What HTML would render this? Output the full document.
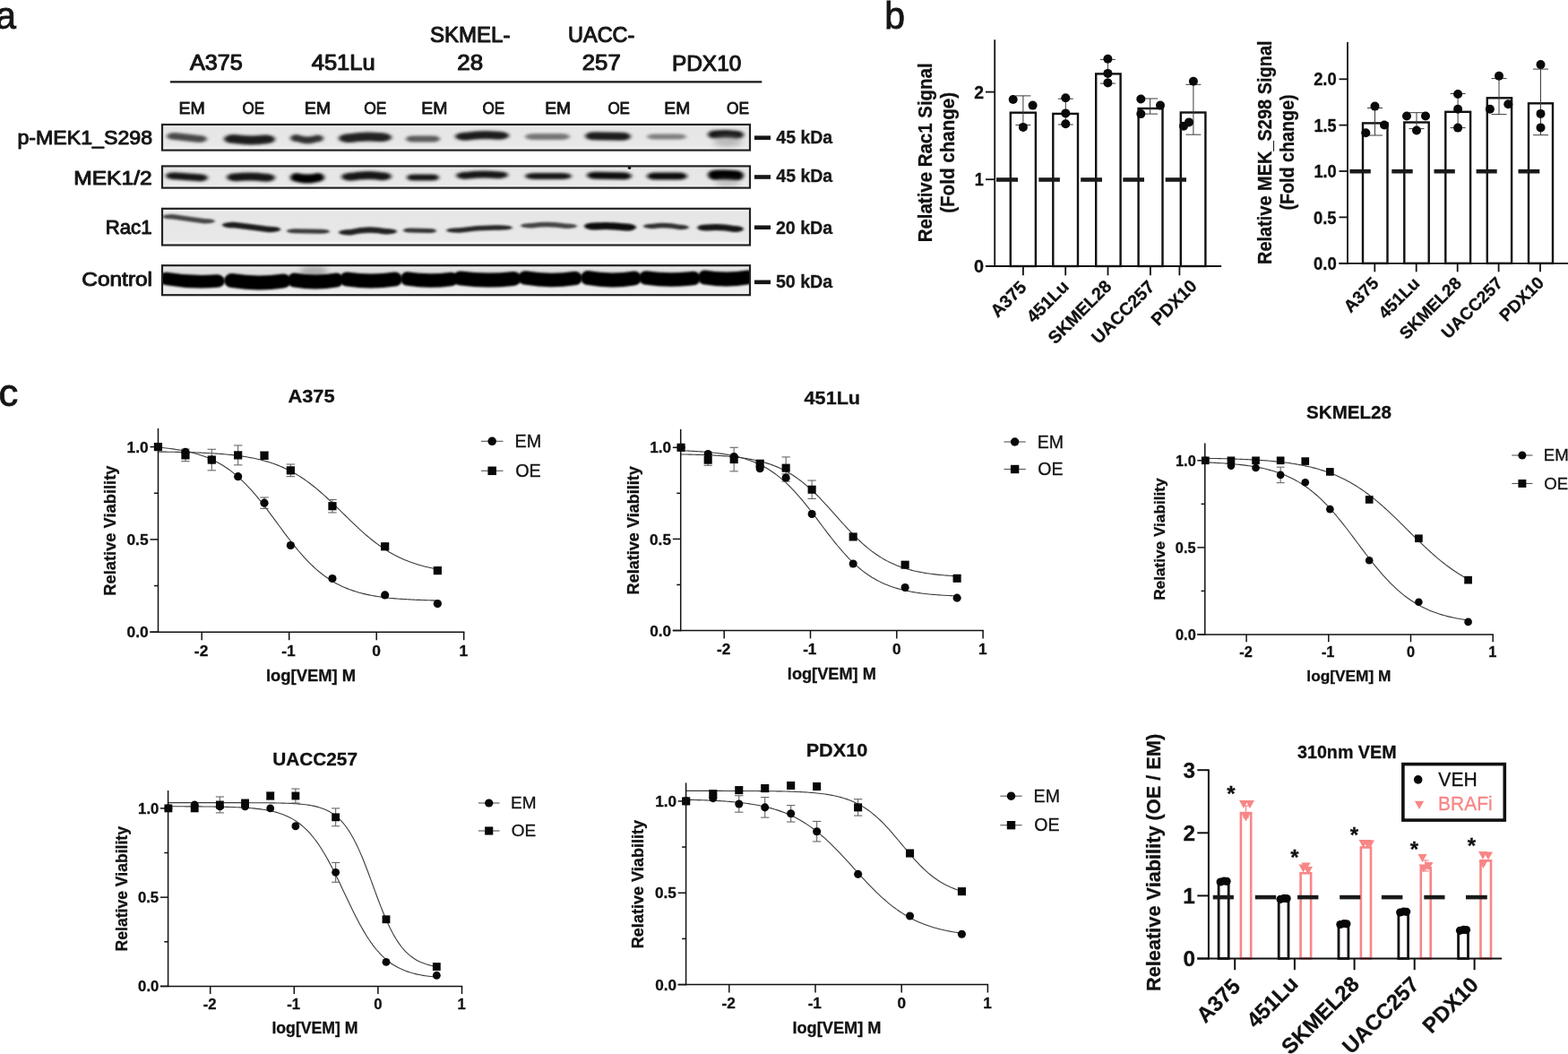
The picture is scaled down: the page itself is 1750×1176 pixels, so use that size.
<!DOCTYPE html>
<html><head><meta charset="utf-8"><title>Figure</title>
<style>
html,body{margin:0;padding:0;background:#fff;}
body{width:1750px;height:1176px;overflow:hidden;}
svg{display:block;}
text{font-family:"Liberation Sans", Arial, Helvetica, sans-serif;}
</style></head><body>
<svg width="1750" height="1176" viewBox="0 0 1750 1176">
<defs>
<filter id="b1" filterUnits="userSpaceOnUse" x="0" y="0" width="1750" height="1176"><feGaussianBlur stdDeviation="2.0 1.6"/></filter>
<filter id="b2" filterUnits="userSpaceOnUse" x="0" y="0" width="1750" height="1176"><feGaussianBlur stdDeviation="1.8 1.3"/></filter>
<filter id="b3" filterUnits="userSpaceOnUse" x="0" y="0" width="1750" height="1176"><feGaussianBlur stdDeviation="3 3"/></filter>
<filter id="b4" filterUnits="userSpaceOnUse" x="0" y="0" width="1750" height="1176"><feGaussianBlur stdDeviation="1.3 1.1"/></filter>
<linearGradient id="blotbg" x1="0" y1="0" x2="0" y2="1">
<stop offset="0" stop-color="#f6f6f6"/><stop offset="0.12" stop-color="#e6e6e6"/><stop offset="0.85" stop-color="#e8e8e8"/><stop offset="1" stop-color="#fafafa"/>
</linearGradient>
</defs>
<rect x="0" y="0" width="1750" height="1176" fill="#fff"/>
<text x="-5" y="31.85" font-size="43" font-weight="normal" fill="#151515" textLength="22.99" lengthAdjust="spacingAndGlyphs" stroke="#151515" stroke-width="0.9">a</text>
<text x="987.2" y="31.55" font-size="43" font-weight="normal" fill="#151515" textLength="22.73" lengthAdjust="spacingAndGlyphs" stroke="#151515" stroke-width="0.9">b</text>
<text x="-1.49" y="452.95" font-size="43" font-weight="normal" fill="#151515" textLength="21.74" lengthAdjust="spacingAndGlyphs" stroke="#151515" stroke-width="0.9">c</text>
<text x="211.94" y="78.06" font-size="23.94" font-weight="normal" fill="#161616" textLength="58.72" lengthAdjust="spacingAndGlyphs" stroke="#161616" stroke-width="1.0710000000000002" stroke-linejoin="round">A375</text>
<text x="347.73" y="78.06" font-size="23.94" font-weight="normal" fill="#161616" textLength="70.94" lengthAdjust="spacingAndGlyphs" stroke="#161616" stroke-width="1.0710000000000002" stroke-linejoin="round">451Lu</text>
<text x="479.93" y="47.46" font-size="23.94" font-weight="normal" fill="#161616" textLength="89.47" lengthAdjust="spacingAndGlyphs" stroke="#161616" stroke-width="1.0710000000000002" stroke-linejoin="round">SKMEL-</text>
<text x="510.34" y="78.06" font-size="23.94" font-weight="normal" fill="#161616" textLength="28.82" lengthAdjust="spacingAndGlyphs" stroke="#161616" stroke-width="1.0710000000000002" stroke-linejoin="round">28</text>
<text x="634.06" y="47.46" font-size="23.94" font-weight="normal" fill="#161616" textLength="74.3" lengthAdjust="spacingAndGlyphs" stroke="#161616" stroke-width="1.0710000000000002" stroke-linejoin="round">UACC-</text>
<text x="649.75" y="78.06" font-size="23.94" font-weight="normal" fill="#161616" textLength="42.96" lengthAdjust="spacingAndGlyphs" stroke="#161616" stroke-width="1.0710000000000002" stroke-linejoin="round">257</text>
<text x="749.98" y="78.56" font-size="23.94" font-weight="normal" fill="#161616" textLength="77.32" lengthAdjust="spacingAndGlyphs" stroke="#161616" stroke-width="1.0710000000000002" stroke-linejoin="round">PDX10</text>
<line x1="190" y1="91.3" x2="850.3" y2="91.3" stroke="#161616" stroke-width="2.3"/>
<text x="199.46" y="126.67" font-size="19.06" font-weight="normal" fill="#161616" textLength="29.38" lengthAdjust="spacingAndGlyphs" stroke="#161616" stroke-width="0.8526000000000001" stroke-linejoin="round">EM</text>
<text x="270.48" y="126.67" font-size="19.06" font-weight="normal" fill="#161616" textLength="24.59" lengthAdjust="spacingAndGlyphs" stroke="#161616" stroke-width="0.8526000000000001" stroke-linejoin="round">OE</text>
<text x="339.65" y="126.67" font-size="19.06" font-weight="normal" fill="#161616" textLength="29.49" lengthAdjust="spacingAndGlyphs" stroke="#161616" stroke-width="0.8526000000000001" stroke-linejoin="round">EM</text>
<text x="406.15" y="126.67" font-size="19.06" font-weight="normal" fill="#161616" textLength="25.23" lengthAdjust="spacingAndGlyphs" stroke="#161616" stroke-width="0.8526000000000001" stroke-linejoin="round">OE</text>
<text x="470.27" y="126.67" font-size="19.06" font-weight="normal" fill="#161616" textLength="29.16" lengthAdjust="spacingAndGlyphs" stroke="#161616" stroke-width="0.8526000000000001" stroke-linejoin="round">EM</text>
<text x="538.57" y="126.67" font-size="19.06" font-weight="normal" fill="#161616" textLength="24.7" lengthAdjust="spacingAndGlyphs" stroke="#161616" stroke-width="0.8526000000000001" stroke-linejoin="round">OE</text>
<text x="608.29" y="126.67" font-size="19.06" font-weight="normal" fill="#161616" textLength="28.82" lengthAdjust="spacingAndGlyphs" stroke="#161616" stroke-width="0.8526000000000001" stroke-linejoin="round">EM</text>
<text x="678.38" y="126.67" font-size="19.06" font-weight="normal" fill="#161616" textLength="24.59" lengthAdjust="spacingAndGlyphs" stroke="#161616" stroke-width="0.8526000000000001" stroke-linejoin="round">OE</text>
<text x="741.39" y="126.67" font-size="19.06" font-weight="normal" fill="#161616" textLength="28.82" lengthAdjust="spacingAndGlyphs" stroke="#161616" stroke-width="0.8526000000000001" stroke-linejoin="round">EM</text>
<text x="810.96" y="126.67" font-size="19.06" font-weight="normal" fill="#161616" textLength="25.02" lengthAdjust="spacingAndGlyphs" stroke="#161616" stroke-width="0.8526000000000001" stroke-linejoin="round">OE</text>
<text x="19.5" y="161.31" font-size="21.78" font-weight="normal" fill="#161616" textLength="150.52" lengthAdjust="spacingAndGlyphs" stroke="#161616" stroke-width="0.9744" stroke-linejoin="round">p-MEK1_S298</text>
<text x="82.27" y="206.31" font-size="21.78" font-weight="normal" fill="#161616" textLength="87.4" lengthAdjust="spacingAndGlyphs" stroke="#161616" stroke-width="0.9744" stroke-linejoin="round">MEK1/2</text>
<text x="117.71" y="260.51" font-size="21.78" font-weight="normal" fill="#161616" textLength="51.78" lengthAdjust="spacingAndGlyphs" stroke="#161616" stroke-width="0.9744" stroke-linejoin="round">Rac1</text>
<text x="91.26" y="318.51" font-size="21.78" font-weight="normal" fill="#161616" textLength="78.8" lengthAdjust="spacingAndGlyphs" stroke="#161616" stroke-width="0.9744" stroke-linejoin="round">Control</text>
<line x1="842" y1="153.7" x2="860" y2="153.7" stroke="#161616" stroke-width="4.6"/>
<text x="866.3" y="159.5" font-size="20" font-weight="bold" fill="#161616" textLength="62.89" lengthAdjust="spacingAndGlyphs" stroke="#161616" stroke-width="0.3">45 kDa</text>
<line x1="842" y1="197.5" x2="860" y2="197.5" stroke="#161616" stroke-width="4.6"/>
<text x="866.3" y="203.2" font-size="20" font-weight="bold" fill="#161616" textLength="62.89" lengthAdjust="spacingAndGlyphs" stroke="#161616" stroke-width="0.3">45 kDa</text>
<line x1="842" y1="253.75" x2="860" y2="253.75" stroke="#161616" stroke-width="4.6"/>
<text x="865.91" y="261.25" font-size="20" font-weight="bold" fill="#161616" textLength="63.28" lengthAdjust="spacingAndGlyphs" stroke="#161616" stroke-width="0.3">20 kDa</text>
<line x1="842" y1="314.8" x2="860" y2="314.8" stroke="#161616" stroke-width="4.6"/>
<text x="865.91" y="320.7" font-size="20" font-weight="bold" fill="#161616" textLength="63.28" lengthAdjust="spacingAndGlyphs" stroke="#161616" stroke-width="0.3">50 kDa</text>
<rect x="181" y="139" width="656" height="28.6" fill="url(#blotbg)" stroke="none" stroke-width="0"/>
<rect x="181" y="185.4" width="656" height="24.2" fill="url(#blotbg)" stroke="none" stroke-width="0"/>
<rect x="181" y="232.8" width="656" height="40.7" fill="url(#blotbg)" stroke="none" stroke-width="0"/>
<rect x="181" y="296.2" width="656" height="33" fill="url(#blotbg)" stroke="none" stroke-width="0"/>
<clipPath id="clipblots"><rect x="181" y="139" width="656" height="28.6"/><rect x="181" y="185.4" width="656" height="24.2"/><rect x="181" y="232.8" width="656" height="40.7"/><rect x="181" y="296.2" width="656" height="33"/></clipPath>
<g clip-path="url(#clipblots)">
<path d="M195 148 Q208.5 149.5 222 151 A9 4 0 0 1 222 159 Q208.5 157.5 195 156 A9 4 0 0 1 195 148 Z" fill="#4a4a4a" filter="url(#b1)"/>
<path d="M261.4 150.1 Q278.5 152.75 295.6 150.4 A11.4 5 0 0 1 295.6 160.4 Q278.5 162.75 261.4 160.1 A11.4 5 0 0 1 261.4 150.1 Z" fill="#1c1c1c" filter="url(#b1)"/>
<path d="M331.4 150.1 Q342.5 154.75 353.6 150.4 A7.4 4 0 0 1 353.6 158.4 Q342.5 162.75 331.4 158.1 A7.4 4 0 0 1 331.4 150.1 Z" fill="#333" filter="url(#b1)"/>
<path d="M389.8 149.2 Q407.5 146.25 425.2 148.3 A11.8 5 0 0 1 425.2 158.3 Q407.5 156.25 389.8 159.2 A11.8 5 0 0 1 389.8 149.2 Z" fill="#202020" filter="url(#b1)"/>
<path d="M460.6 151.5 Q472 151.5 483.4 151.5 A7.6 3.5 0 0 1 483.4 158.5 Q472 158.5 460.6 158.5 A7.6 3.5 0 0 1 460.6 151.5 Z" fill="#5a5a5a" filter="url(#b1)"/>
<path d="M520 147.7 Q538 144.75 556 146.8 A12 4.5 0 0 1 556 155.8 Q538 153.75 520 156.7 A12 4.5 0 0 1 520 147.7 Z" fill="#1c1c1c" filter="url(#b1)"/>
<path d="M596 149 Q611 149 626 149 A10 3.5 0 0 1 626 156 Q611 156 596 156 A10 3.5 0 0 1 596 149 Z" fill="#767676" filter="url(#b1)"/>
<path d="M663.2 147.2 Q678.5 147.5 693.8 147.8 A10.2 4.5 0 0 1 693.8 156.8 Q678.5 156.5 663.2 156.2 A10.2 4.5 0 0 1 663.2 147.2 Z" fill="#1e1e1e" filter="url(#b1)"/>
<path d="M730.8 149.5 Q744 149.5 757.2 149.5 A8.8 3 0 0 1 757.2 155.5 Q744 155.5 730.8 155.5 A8.8 3 0 0 1 730.8 149.5 Z" fill="#7e7e7e" filter="url(#b1)"/>
<path d="M798 145.6 Q810 144.25 822 145.9 A8 4.5 0 0 1 822 154.9 Q810 153.25 798 154.6 A8 4.5 0 0 1 798 145.6 Z" fill="#141414" filter="url(#b1)"/>
<ellipse cx="812" cy="158" rx="16" ry="6" fill="#9a9a9a" filter="url(#b3)" opacity="0.6"/>
<path d="M194.4 192.2 Q208.5 193.25 222.6 194.3 A9.4 4 0 0 1 222.6 202.3 Q208.5 201.25 194.4 200.2 A9.4 4 0 0 1 194.4 192.2 Z" fill="#161616" filter="url(#b1)"/>
<path d="M263.8 193.2 Q280 191.5 296.2 193.8 A10.8 4.5 0 0 1 296.2 202.8 Q280 200.5 263.8 202.2 A10.8 4.5 0 0 1 263.8 193.2 Z" fill="#141414" filter="url(#b1)"/>
<path d="M331.6 193 Q343 196 354.4 193 A7.6 5 0 0 1 354.4 203 Q343 206 331.6 203 A7.6 5 0 0 1 331.6 193 Z" fill="#060606" filter="url(#b1)"/>
<path d="M392.2 192.8 Q409 189.5 425.8 192.2 A11.2 4.5 0 0 1 425.8 201.2 Q409 198.5 392.2 201.8 A11.2 4.5 0 0 1 392.2 192.8 Z" fill="#151515" filter="url(#b1)"/>
<path d="M461.2 194.5 Q472 194.5 482.8 194.5 A7.2 3.5 0 0 1 482.8 201.5 Q472 201.5 461.2 201.5 A7.2 3.5 0 0 1 461.2 194.5 Z" fill="#181818" filter="url(#b1)"/>
<path d="M520.6 191.8 Q538 189.5 555.4 191.2 A11.6 4 0 0 1 555.4 199.2 Q538 197.5 520.6 199.8 A11.6 4 0 0 1 520.6 191.8 Z" fill="#181818" filter="url(#b1)"/>
<path d="M596.4 193 Q612 193 627.6 193 A10.4 3.5 0 0 1 627.6 200 Q612 200 596.4 200 A10.4 3.5 0 0 1 596.4 193 Z" fill="#141414" filter="url(#b1)"/>
<path d="M665 191.7 Q680 192 695 192.3 A10 4 0 0 1 695 200.3 Q680 200 665 199.7 A10 4 0 0 1 665 191.7 Z" fill="#0c0c0c" filter="url(#b1)"/>
<path d="M731 192.5 Q744.5 192.5 758 192.5 A9 4 0 0 1 758 200.5 Q744.5 200.5 731 200.5 A9 4 0 0 1 731 192.5 Z" fill="#101010" filter="url(#b1)"/>
<path d="M798 189.7 Q810 189 822 190.3 A8 5.5 0 0 1 822 201.3 Q810 200 798 200.7 A8 5.5 0 0 1 798 189.7 Z" fill="#050505" filter="url(#b1)"/>
<ellipse cx="812" cy="204" rx="14" ry="4" fill="#8a8a8a" filter="url(#b3)" opacity="0.5"/>
<path d="M192.8 238.95 Q210.5 241.5 228.2 244.05 A11.8 2.75 0 0 1 228.2 249.55 Q210.5 247 192.8 244.45 A11.8 2.75 0 0 1 192.8 238.95 Z" fill="#474747" filter="url(#b2)"/>
<path d="M261 247.85 Q280.5 250.25 300 252.65 A13 3.25 0 0 1 300 259.15 Q280.5 256.75 261 254.35 A13 3.25 0 0 1 261 247.85 Z" fill="#1c1c1c" filter="url(#b2)"/>
<path d="M329.6 255.2 Q344 255.5 358.4 255.8 A9.6 2.5 0 0 1 358.4 260.8 Q344 260.5 329.6 260.2 A9.6 2.5 0 0 1 329.6 255.2 Z" fill="#3a3a3a" filter="url(#b2)"/>
<path d="M391 255.95 Q410.5 251 430 255.05 A13 3.25 0 0 1 430 261.55 Q410.5 257.5 391 262.45 A13 3.25 0 0 1 391 255.95 Z" fill="#222" filter="url(#b2)"/>
<path d="M457.4 254.6 Q468.5 254.75 479.6 254.9 A7.4 2.5 0 0 1 479.6 259.9 Q468.5 259.75 457.4 259.6 A7.4 2.5 0 0 1 457.4 254.6 Z" fill="#363636" filter="url(#b2)"/>
<path d="M512.8 254.25 Q535 250.75 557.2 251.25 A14.8 2.75 0 0 1 557.2 256.75 Q535 256.25 512.8 259.75 A14.8 2.75 0 0 1 512.8 254.25 Z" fill="#262626" filter="url(#b2)"/>
<path d="M593.6 248.95 Q612.5 246.25 631.4 249.55 A12.6 2.75 0 0 1 631.4 255.05 Q612.5 251.75 593.6 254.45 A12.6 2.75 0 0 1 593.6 248.95 Z" fill="#454545" filter="url(#b2)"/>
<path d="M663.6 248.4 Q681 247 698.4 249.6 A11.6 4 0 0 1 698.4 257.6 Q681 255 663.6 256.4 A11.6 4 0 0 1 663.6 248.4 Z" fill="#0a0a0a" filter="url(#b2)"/>
<path d="M728.2 249.65 Q743.5 247.25 758.8 250.85 A10.2 2.75 0 0 1 758.8 256.35 Q743.5 252.75 728.2 255.15 A10.2 2.75 0 0 1 728.2 249.65 Z" fill="#303030" filter="url(#b2)"/>
<path d="M788.4 250.5 Q804 248.75 819.6 252 A10.4 3.5 0 0 1 819.6 259 Q804 255.75 788.4 257.5 A10.4 3.5 0 0 1 788.4 250.5 Z" fill="#141414" filter="url(#b2)"/>
<rect x="181" y="296" width="656" height="34" fill="#ececec" stroke="none" stroke-width="0"/>
<rect x="181" y="300" width="656" height="8" fill="#d4d4d4" filter="url(#b3)" opacity="0.7"/>
<ellipse cx="350" cy="303" rx="15" ry="7" fill="#a0a0a0" filter="url(#b3)" opacity="0.8"/>
<path d="M185.88 303.67 Q214 308.5 242.12 306.33 A8.88 7.25 0 0 1 242.12 320.83 Q214 323 185.88 318.17 A8.88 7.25 0 0 1 185.88 303.67 Z" fill="#040404" filter="url(#b4)"/>
<path d="M259 305.06 Q287.5 309.75 316 305.44 A9 8 0 0 1 316 321.44 Q287.5 325.75 259 321.06 A9 8 0 0 1 259 305.06 Z" fill="#040404" filter="url(#b4)"/>
<path d="M328.44 304.5 Q352 308.5 375.56 304.5 A7.44 8 0 0 1 375.56 320.5 Q352 324.5 328.44 320.5 A7.44 8 0 0 1 328.44 304.5 Z" fill="#040404" filter="url(#b4)"/>
<path d="M387.4 303.5 Q414 307.5 440.6 303.5 A8.4 8 0 0 1 440.6 319.5 Q414 323.5 387.4 319.5 A8.4 8 0 0 1 387.4 303.5 Z" fill="#040404" filter="url(#b4)"/>
<path d="M454.68 303.31 Q479 307 503.32 303.69 A7.68 7.75 0 0 1 503.32 319.19 Q479 322.5 454.68 318.81 A7.68 7.75 0 0 1 454.68 303.31 Z" fill="#040404" filter="url(#b4)"/>
<path d="M514.24 302.56 Q543.5 306.25 572.76 302.94 A9.24 8 0 0 1 572.76 318.94 Q543.5 322.25 514.24 318.56 A9.24 8 0 0 1 514.24 302.56 Z" fill="#040404" filter="url(#b4)"/>
<path d="M586.64 302.31 Q614 307 641.36 302.69 A8.64 7.75 0 0 1 641.36 318.19 Q614 322.5 586.64 317.81 A8.64 7.75 0 0 1 586.64 302.31 Z" fill="#040404" filter="url(#b4)"/>
<path d="M656.16 302.06 Q682 306.75 707.84 302.44 A8.16 8 0 0 1 707.84 318.44 Q682 322.75 656.16 318.06 A8.16 8 0 0 1 656.16 302.06 Z" fill="#040404" filter="url(#b4)"/>
<path d="M721.28 302.31 Q747.5 306 773.72 302.69 A8.28 7.75 0 0 1 773.72 318.19 Q747.5 321.5 721.28 317.81 A8.28 7.75 0 0 1 721.28 302.31 Z" fill="#040404" filter="url(#b4)"/>
<path d="M786.56 301.5 Q810.5 305.5 834.44 301.5 A7.56 8 0 0 1 834.44 317.5 Q810.5 321.5 786.56 317.5 A7.56 8 0 0 1 786.56 301.5 Z" fill="#040404" filter="url(#b4)"/>
<circle cx="702.5" cy="187.3" r="1.8" fill="#111"/>
</g>
<rect x="181" y="139" width="656" height="28.6" fill="none" stroke="#222" stroke-width="2.2"/>
<rect x="181" y="185.4" width="656" height="24.2" fill="none" stroke="#222" stroke-width="2.2"/>
<rect x="181" y="232.8" width="656" height="40.7" fill="none" stroke="#222" stroke-width="2.2"/>
<rect x="181" y="296.2" width="656" height="33" fill="none" stroke="#222" stroke-width="2.2"/>
<rect x="1127.8" y="125.7" width="28.1" height="171.3" fill="#fff" stroke="#111" stroke-width="2.4"/>
<rect x="1175.3" y="126.9" width="27.7" height="170.1" fill="#fff" stroke="#111" stroke-width="2.4"/>
<rect x="1223.2" y="82.4" width="27.4" height="214.6" fill="#fff" stroke="#111" stroke-width="2.4"/>
<rect x="1270.6" y="121" width="26.9" height="176" fill="#fff" stroke="#111" stroke-width="2.4"/>
<rect x="1317.8" y="125.5" width="27.6" height="171.5" fill="#fff" stroke="#111" stroke-width="2.4"/>
<line x1="1112" y1="200.5" x2="1136" y2="200.5" stroke="#1a1a1a" stroke-width="4.6"/>
<line x1="1159.3" y1="200.5" x2="1182.9" y2="200.5" stroke="#1a1a1a" stroke-width="4.6"/>
<line x1="1206.2" y1="200.5" x2="1230" y2="200.5" stroke="#1a1a1a" stroke-width="4.6"/>
<line x1="1253.3" y1="200.5" x2="1277" y2="200.5" stroke="#1a1a1a" stroke-width="4.6"/>
<line x1="1300.7" y1="200.5" x2="1324" y2="200.5" stroke="#1a1a1a" stroke-width="4.6"/>
<line x1="1141.9" y1="106.9" x2="1141.9" y2="139.5" stroke="#3c3c3c" stroke-width="1"/>
<line x1="1133.4" y1="106.9" x2="1150.4" y2="106.9" stroke="#3c3c3c" stroke-width="1"/>
<line x1="1133.4" y1="139.5" x2="1150.4" y2="139.5" stroke="#3c3c3c" stroke-width="1"/>
<line x1="1189.3" y1="110.2" x2="1189.3" y2="139" stroke="#3c3c3c" stroke-width="1"/>
<line x1="1180.8" y1="110.2" x2="1197.8" y2="110.2" stroke="#3c3c3c" stroke-width="1"/>
<line x1="1180.8" y1="139" x2="1197.8" y2="139" stroke="#3c3c3c" stroke-width="1"/>
<line x1="1236.4" y1="66.4" x2="1236.4" y2="93.1" stroke="#3c3c3c" stroke-width="1"/>
<line x1="1227.9" y1="66.4" x2="1244.9" y2="66.4" stroke="#3c3c3c" stroke-width="1"/>
<line x1="1227.9" y1="93.1" x2="1244.9" y2="93.1" stroke="#3c3c3c" stroke-width="1"/>
<line x1="1283.6" y1="110" x2="1283.6" y2="127.1" stroke="#3c3c3c" stroke-width="1"/>
<line x1="1275.1" y1="110" x2="1292.1" y2="110" stroke="#3c3c3c" stroke-width="1"/>
<line x1="1275.1" y1="127.1" x2="1292.1" y2="127.1" stroke="#3c3c3c" stroke-width="1"/>
<line x1="1331.9" y1="94.3" x2="1331.9" y2="150.2" stroke="#3c3c3c" stroke-width="1"/>
<line x1="1323.4" y1="94.3" x2="1340.4" y2="94.3" stroke="#3c3c3c" stroke-width="1"/>
<line x1="1323.4" y1="150.2" x2="1340.4" y2="150.2" stroke="#3c3c3c" stroke-width="1"/>
<circle cx="1130.7" cy="111" r="5" fill="#0a0a0a"/>
<circle cx="1152.6" cy="117.6" r="5" fill="#0a0a0a"/>
<circle cx="1141.9" cy="141.9" r="5" fill="#0a0a0a"/>
<circle cx="1189.3" cy="109.3" r="5" fill="#0a0a0a"/>
<circle cx="1189.3" cy="126.4" r="5" fill="#0a0a0a"/>
<circle cx="1189.3" cy="138.3" r="5" fill="#0a0a0a"/>
<circle cx="1236.4" cy="65.7" r="5" fill="#0a0a0a"/>
<circle cx="1236.4" cy="81.9" r="5" fill="#0a0a0a"/>
<circle cx="1236.4" cy="92.4" r="5" fill="#0a0a0a"/>
<circle cx="1273.3" cy="110.5" r="5" fill="#0a0a0a"/>
<circle cx="1295" cy="117.6" r="5" fill="#0a0a0a"/>
<circle cx="1273.3" cy="127.1" r="5" fill="#0a0a0a"/>
<circle cx="1331.9" cy="90.7" r="5" fill="#0a0a0a"/>
<circle cx="1321" cy="140.7" r="5" fill="#0a0a0a"/>
<circle cx="1327" cy="136.4" r="5" fill="#0a0a0a"/>
<line x1="1110.2" y1="44.3" x2="1110.2" y2="297.9" stroke="#111" stroke-width="1.8"/>
<line x1="1100" y1="297" x2="1363.1" y2="297" stroke="#111" stroke-width="1.8"/>
<line x1="1100" y1="297" x2="1110.2" y2="297" stroke="#111" stroke-width="1.8"/>
<text x="1087.01" y="304.15" font-size="20.2" font-weight="bold" fill="#111" textLength="11.01" lengthAdjust="spacingAndGlyphs" stroke="#111" stroke-width="0.3">0</text>
<line x1="1100" y1="200.2" x2="1110.2" y2="200.2" stroke="#111" stroke-width="1.8"/>
<text x="1087.71" y="207.35" font-size="20.2" font-weight="bold" fill="#111" textLength="10.06" lengthAdjust="spacingAndGlyphs" stroke="#111" stroke-width="0.3">1</text>
<line x1="1100" y1="102.6" x2="1110.2" y2="102.6" stroke="#111" stroke-width="1.8"/>
<text x="1087.22" y="109.75" font-size="20.2" font-weight="bold" fill="#111" textLength="10.78" lengthAdjust="spacingAndGlyphs" stroke="#111" stroke-width="0.3">2</text>
<line x1="1141.9" y1="297" x2="1141.9" y2="307.3" stroke="#111" stroke-width="1.8"/>
<line x1="1189.2" y1="297" x2="1189.2" y2="307.3" stroke="#111" stroke-width="1.8"/>
<line x1="1236.5" y1="297" x2="1236.5" y2="307.3" stroke="#111" stroke-width="1.8"/>
<line x1="1283.9" y1="297" x2="1283.9" y2="307.3" stroke="#111" stroke-width="1.8"/>
<line x1="1316.4" y1="297" x2="1316.4" y2="307.3" stroke="#111" stroke-width="1.8"/>
<text transform="translate(1146.8 321.73) rotate(-45)" x="-47.09" y="0" font-size="19.7" font-weight="bold" fill="#111" stroke="#111" stroke-width="0.3">A375</text>
<text transform="translate(1194.1 321.07) rotate(-45)" x="-56.93" y="0" font-size="19.7" font-weight="bold" fill="#111" stroke="#111" stroke-width="0.3">451Lu</text>
<text transform="translate(1241.88 320.73) rotate(-45)" x="-90.86" y="0" font-size="19.7" font-weight="bold" fill="#111" stroke="#111" stroke-width="0.3">SKMEL28</text>
<text transform="translate(1289.75 321.27) rotate(-45)" x="-89.77" y="0" font-size="19.7" font-weight="bold" fill="#111" stroke="#111" stroke-width="0.3">UACC257</text>
<text transform="translate(1336.97 320.35) rotate(-45)" x="-62.42" y="0" font-size="19.7" font-weight="bold" fill="#111" stroke="#111" stroke-width="0.3">PDX10</text>
<text transform="translate(1040 268.9) rotate(-90)" x="-1.43" y="0" font-size="21.9" font-weight="bold" fill="#111" textLength="199.89" lengthAdjust="spacingAndGlyphs" stroke="#111" stroke-width="0.3">Relative Rac1 Signal</text>
<text transform="translate(1065.2 236.8) rotate(-90)" x="-1.03" y="0" font-size="21.9" font-weight="bold" fill="#111" textLength="134.95" lengthAdjust="spacingAndGlyphs" stroke="#111" stroke-width="0.3">(Fold change)</text>
<rect x="1521" y="137.4" width="27.5" height="156.4" fill="#fff" stroke="#111" stroke-width="2.4"/>
<rect x="1567.3" y="136.5" width="27.4" height="157.3" fill="#fff" stroke="#111" stroke-width="2.4"/>
<rect x="1613.3" y="124.8" width="27.8" height="169" fill="#fff" stroke="#111" stroke-width="2.4"/>
<rect x="1659.8" y="109.3" width="27.3" height="184.5" fill="#fff" stroke="#111" stroke-width="2.4"/>
<rect x="1706" y="115.3" width="27" height="178.5" fill="#fff" stroke="#111" stroke-width="2.4"/>
<line x1="1506.4" y1="191.2" x2="1529.8" y2="191.2" stroke="#1a1a1a" stroke-width="4.6"/>
<line x1="1553.3" y1="191.2" x2="1576.7" y2="191.2" stroke="#1a1a1a" stroke-width="4.6"/>
<line x1="1600.5" y1="191.2" x2="1623.8" y2="191.2" stroke="#1a1a1a" stroke-width="4.6"/>
<line x1="1647.6" y1="191.2" x2="1670.7" y2="191.2" stroke="#1a1a1a" stroke-width="4.6"/>
<line x1="1694.5" y1="191.2" x2="1718.3" y2="191.2" stroke="#1a1a1a" stroke-width="4.6"/>
<line x1="1534.5" y1="120.5" x2="1534.5" y2="151" stroke="#3c3c3c" stroke-width="1"/>
<line x1="1526" y1="120.5" x2="1543" y2="120.5" stroke="#3c3c3c" stroke-width="1"/>
<line x1="1526" y1="151" x2="1543" y2="151" stroke="#3c3c3c" stroke-width="1"/>
<line x1="1581" y1="125.7" x2="1581" y2="143.6" stroke="#3c3c3c" stroke-width="1"/>
<line x1="1572.5" y1="125.7" x2="1589.5" y2="125.7" stroke="#3c3c3c" stroke-width="1"/>
<line x1="1572.5" y1="143.6" x2="1589.5" y2="143.6" stroke="#3c3c3c" stroke-width="1"/>
<line x1="1627.1" y1="104.5" x2="1627.1" y2="142.6" stroke="#3c3c3c" stroke-width="1"/>
<line x1="1618.6" y1="104.5" x2="1635.6" y2="104.5" stroke="#3c3c3c" stroke-width="1"/>
<line x1="1618.6" y1="142.6" x2="1635.6" y2="142.6" stroke="#3c3c3c" stroke-width="1"/>
<line x1="1673" y1="87.6" x2="1673" y2="127.6" stroke="#3c3c3c" stroke-width="1"/>
<line x1="1664.5" y1="87.6" x2="1681.5" y2="87.6" stroke="#3c3c3c" stroke-width="1"/>
<line x1="1664.5" y1="127.6" x2="1681.5" y2="127.6" stroke="#3c3c3c" stroke-width="1"/>
<line x1="1719.5" y1="77.1" x2="1719.5" y2="150.7" stroke="#3c3c3c" stroke-width="1"/>
<line x1="1711" y1="77.1" x2="1728" y2="77.1" stroke="#3c3c3c" stroke-width="1"/>
<line x1="1711" y1="150.7" x2="1728" y2="150.7" stroke="#3c3c3c" stroke-width="1"/>
<circle cx="1534.5" cy="118.6" r="5" fill="#0a0a0a"/>
<circle cx="1545" cy="139.5" r="5" fill="#0a0a0a"/>
<circle cx="1524.3" cy="148.3" r="5" fill="#0a0a0a"/>
<circle cx="1570" cy="129.5" r="5" fill="#0a0a0a"/>
<circle cx="1591" cy="129.5" r="5" fill="#0a0a0a"/>
<circle cx="1581" cy="145.5" r="5" fill="#0a0a0a"/>
<circle cx="1627.1" cy="105" r="5" fill="#0a0a0a"/>
<circle cx="1627.1" cy="121.7" r="5" fill="#0a0a0a"/>
<circle cx="1627.1" cy="142.6" r="5" fill="#0a0a0a"/>
<circle cx="1673" cy="84.8" r="5" fill="#0a0a0a"/>
<circle cx="1662.9" cy="121.7" r="5" fill="#0a0a0a"/>
<circle cx="1683.3" cy="116.2" r="5" fill="#0a0a0a"/>
<circle cx="1719.5" cy="72.1" r="5" fill="#0a0a0a"/>
<circle cx="1719.5" cy="126.9" r="5" fill="#0a0a0a"/>
<circle cx="1719.5" cy="142.4" r="5" fill="#0a0a0a"/>
<line x1="1504" y1="47.1" x2="1504" y2="294.7" stroke="#111" stroke-width="1.8"/>
<line x1="1494.5" y1="293.8" x2="1752" y2="293.8" stroke="#111" stroke-width="1.8"/>
<line x1="1494.5" y1="293.8" x2="1504" y2="293.8" stroke="#111" stroke-width="1.8"/>
<text x="1465.96" y="300.95" font-size="20.2" font-weight="bold" fill="#111" textLength="25.78" lengthAdjust="spacingAndGlyphs" stroke="#111" stroke-width="0.3">0.0</text>
<line x1="1494.5" y1="242.4" x2="1504" y2="242.4" stroke="#111" stroke-width="1.8"/>
<text x="1465.96" y="249.55" font-size="20.2" font-weight="bold" fill="#111" textLength="25.59" lengthAdjust="spacingAndGlyphs" stroke="#111" stroke-width="0.3">0.5</text>
<line x1="1494.5" y1="191" x2="1504" y2="191" stroke="#111" stroke-width="1.8"/>
<text x="1466.41" y="198.15" font-size="20.2" font-weight="bold" fill="#111" textLength="25.32" lengthAdjust="spacingAndGlyphs" stroke="#111" stroke-width="0.3">1.0</text>
<line x1="1494.5" y1="139.6" x2="1504" y2="139.6" stroke="#111" stroke-width="1.8"/>
<text x="1466.42" y="146.75" font-size="20.2" font-weight="bold" fill="#111" textLength="25.13" lengthAdjust="spacingAndGlyphs" stroke="#111" stroke-width="0.3">1.5</text>
<line x1="1494.5" y1="88.3" x2="1504" y2="88.3" stroke="#111" stroke-width="1.8"/>
<text x="1466.15" y="95.45" font-size="20.2" font-weight="bold" fill="#111" textLength="25.59" lengthAdjust="spacingAndGlyphs" stroke="#111" stroke-width="0.3">2.0</text>
<line x1="1534.3" y1="293.8" x2="1534.3" y2="303.3" stroke="#111" stroke-width="1.8"/>
<line x1="1580.7" y1="293.8" x2="1580.7" y2="303.3" stroke="#111" stroke-width="1.8"/>
<line x1="1626.7" y1="293.8" x2="1626.7" y2="303.3" stroke="#111" stroke-width="1.8"/>
<line x1="1672.6" y1="293.8" x2="1672.6" y2="303.3" stroke="#111" stroke-width="1.8"/>
<line x1="1719" y1="293.8" x2="1719" y2="303.3" stroke="#111" stroke-width="1.8"/>
<text transform="translate(1539.9 317.27) rotate(-45)" x="-45.9" y="0" font-size="19.2" font-weight="bold" fill="#111" stroke="#111" stroke-width="0.3">A375</text>
<text transform="translate(1585.47 317.45) rotate(-45)" x="-55.48" y="0" font-size="19.2" font-weight="bold" fill="#111" stroke="#111" stroke-width="0.3">451Lu</text>
<text transform="translate(1632.25 317.07) rotate(-45)" x="-88.55" y="0" font-size="19.2" font-weight="bold" fill="#111" stroke="#111" stroke-width="0.3">SKMEL28</text>
<text transform="translate(1678.42 317.12) rotate(-45)" x="-87.5" y="0" font-size="19.2" font-weight="bold" fill="#111" stroke="#111" stroke-width="0.3">UACC257</text>
<text transform="translate(1724.25 316.7) rotate(-45)" x="-60.83" y="0" font-size="19.2" font-weight="bold" fill="#111" stroke="#111" stroke-width="0.3">PDX10</text>
<text transform="translate(1419 293.6) rotate(-90)" x="-1.4" y="0" font-size="21.4" font-weight="bold" fill="#111" textLength="249.59" lengthAdjust="spacingAndGlyphs" stroke="#111" stroke-width="0.3">Relative MEK_S298 Signal</text>
<text transform="translate(1443.6 233.6) rotate(-90)" x="-0.99" y="0" font-size="21.4" font-weight="bold" fill="#111" textLength="129.26" lengthAdjust="spacingAndGlyphs" stroke="#111" stroke-width="0.3">(Fold change)</text>
<path d="M176.45 499.17 L178.69 499.36 L180.94 499.57 L183.18 499.79 L185.43 500.03 L187.67 500.28 L189.91 500.55 L192.16 500.84 L194.40 501.15 L196.65 501.48 L198.89 501.84 L201.13 502.21 L203.38 502.62 L205.62 503.05 L207.86 503.51 L210.11 504.00 L212.35 504.52 L214.60 505.08 L216.84 505.67 L219.08 506.30 L221.33 506.97 L223.57 507.68 L225.82 508.44 L228.06 509.25 L230.30 510.10 L232.55 511.01 L234.79 511.97 L237.04 512.99 L239.28 514.07 L241.52 515.21 L243.77 516.42 L246.01 517.69 L248.25 519.03 L250.50 520.44 L252.74 521.93 L254.99 523.49 L257.23 525.13 L259.47 526.85 L261.72 528.64 L263.96 530.52 L266.21 532.48 L268.45 534.52 L270.69 536.65 L272.94 538.85 L275.18 541.14 L277.43 543.51 L279.67 545.95 L281.91 548.47 L284.16 551.06 L286.40 553.72 L288.65 556.44 L290.89 559.22 L293.13 562.06 L295.38 564.95 L297.62 567.88 L299.86 570.85 L302.11 573.84 L304.35 576.87 L306.60 579.90 L308.84 582.95 L311.08 586.00 L313.33 589.04 L315.57 592.07 L317.82 595.08 L320.06 598.06 L322.30 601.01 L324.55 603.91 L326.79 606.77 L329.04 609.57 L331.28 612.32 L333.52 615.00 L335.77 617.62 L338.01 620.17 L340.25 622.64 L342.50 625.04 L344.74 627.35 L346.99 629.59 L349.23 631.75 L351.47 633.82 L353.72 635.81 L355.96 637.72 L358.21 639.55 L360.45 641.30 L362.69 642.97 L364.94 644.56 L367.18 646.07 L369.43 647.51 L371.67 648.88 L373.91 650.18 L376.16 651.41 L378.40 652.57 L380.65 653.68 L382.89 654.72 L385.13 655.70 L387.38 656.63 L389.62 657.51 L391.86 658.33 L394.11 659.11 L396.35 659.84 L398.60 660.53 L400.84 661.17 L403.08 661.78 L405.33 662.35 L407.57 662.89 L409.82 663.39 L412.06 663.86 L414.30 664.30 L416.55 664.71 L418.79 665.10 L421.04 665.46 L423.28 665.80 L425.52 666.12 L427.77 666.42 L430.01 666.70 L432.25 666.96 L434.50 667.20 L436.74 667.43 L438.99 667.64 L441.23 667.84 L443.47 668.03 L445.72 668.20 L447.96 668.36 L450.21 668.51 L452.45 668.66 L454.69 668.79 L456.94 668.91 L459.18 669.03 L461.43 669.13 L463.67 669.24 L465.91 669.33 L468.16 669.42 L470.40 669.50 L472.65 669.57 L474.89 669.65 L477.13 669.71 L479.38 669.77 L481.62 669.83 L483.86 669.89 L486.11 669.94 L488.35 669.98" fill="none" stroke="#3a3a3a" stroke-width="1.1"/>
<path d="M176.45 504.06 L178.69 504.09 L180.94 504.11 L183.18 504.14 L185.43 504.17 L187.67 504.20 L189.91 504.24 L192.16 504.28 L194.40 504.32 L196.65 504.36 L198.89 504.40 L201.13 504.45 L203.38 504.50 L205.62 504.55 L207.86 504.61 L210.11 504.67 L212.35 504.74 L214.60 504.81 L216.84 504.88 L219.08 504.96 L221.33 505.05 L223.57 505.13 L225.82 505.23 L228.06 505.33 L230.30 505.44 L232.55 505.55 L234.79 505.68 L237.04 505.81 L239.28 505.94 L241.52 506.09 L243.77 506.25 L246.01 506.41 L248.25 506.59 L250.50 506.78 L252.74 506.98 L254.99 507.19 L257.23 507.42 L259.47 507.66 L261.72 507.91 L263.96 508.18 L266.21 508.47 L268.45 508.78 L270.69 509.10 L272.94 509.44 L275.18 509.81 L277.43 510.20 L279.67 510.60 L281.91 511.04 L284.16 511.50 L286.40 511.98 L288.65 512.50 L290.89 513.04 L293.13 513.61 L295.38 514.22 L297.62 514.86 L299.86 515.54 L302.11 516.25 L304.35 517.00 L306.60 517.79 L308.84 518.62 L311.08 519.50 L313.33 520.42 L315.57 521.38 L317.82 522.39 L320.06 523.45 L322.30 524.56 L324.55 525.72 L326.79 526.93 L329.04 528.20 L331.28 529.51 L333.52 530.88 L335.77 532.31 L338.01 533.79 L340.25 535.32 L342.50 536.91 L344.74 538.55 L346.99 540.24 L349.23 541.99 L351.47 543.78 L353.72 545.63 L355.96 547.52 L358.21 549.46 L360.45 551.43 L362.69 553.45 L364.94 555.50 L367.18 557.59 L369.43 559.71 L371.67 561.85 L373.91 564.01 L376.16 566.19 L378.40 568.38 L380.65 570.58 L382.89 572.79 L385.13 574.99 L387.38 577.19 L389.62 579.38 L391.86 581.56 L394.11 583.72 L396.35 585.85 L398.60 587.96 L400.84 590.04 L403.08 592.09 L405.33 594.10 L407.57 596.07 L409.82 598.00 L412.06 599.88 L414.30 601.72 L416.55 603.51 L418.79 605.24 L421.04 606.93 L423.28 608.56 L425.52 610.14 L427.77 611.66 L430.01 613.13 L432.25 614.54 L434.50 615.91 L436.74 617.21 L438.99 618.47 L441.23 619.67 L443.47 620.82 L445.72 621.92 L447.96 622.97 L450.21 623.97 L452.45 624.93 L454.69 625.84 L456.94 626.71 L459.18 627.53 L461.43 628.31 L463.67 629.06 L465.91 629.76 L468.16 630.43 L470.40 631.07 L472.65 631.67 L474.89 632.24 L477.13 632.77 L479.38 633.28 L481.62 633.76 L483.86 634.22 L486.11 634.65 L488.35 635.05" fill="none" stroke="#3a3a3a" stroke-width="1.1"/>
<line x1="295.01" y1="555" x2="295.01" y2="567.4" stroke="#666" stroke-width="1.1"/>
<line x1="290.26" y1="555" x2="299.76" y2="555" stroke="#666" stroke-width="1.1"/>
<line x1="290.26" y1="567.4" x2="299.76" y2="567.4" stroke="#666" stroke-width="1.1"/>
<line x1="206.97" y1="501.08" x2="206.97" y2="514.71" stroke="#666" stroke-width="1.1"/>
<line x1="202.22" y1="501.08" x2="211.72" y2="501.08" stroke="#666" stroke-width="1.1"/>
<line x1="202.22" y1="514.71" x2="211.72" y2="514.71" stroke="#666" stroke-width="1.1"/>
<line x1="236.31" y1="501.29" x2="236.31" y2="524.84" stroke="#666" stroke-width="1.1"/>
<line x1="231.56" y1="501.29" x2="241.06" y2="501.29" stroke="#666" stroke-width="1.1"/>
<line x1="231.56" y1="524.84" x2="241.06" y2="524.84" stroke="#666" stroke-width="1.1"/>
<line x1="265.66" y1="496.95" x2="265.66" y2="518.85" stroke="#666" stroke-width="1.1"/>
<line x1="260.91" y1="496.95" x2="270.41" y2="496.95" stroke="#666" stroke-width="1.1"/>
<line x1="260.91" y1="518.85" x2="270.41" y2="518.85" stroke="#666" stroke-width="1.1"/>
<line x1="295.01" y1="504.18" x2="295.01" y2="512.44" stroke="#666" stroke-width="1.1"/>
<line x1="290.26" y1="504.18" x2="299.76" y2="504.18" stroke="#666" stroke-width="1.1"/>
<line x1="290.26" y1="512.44" x2="299.76" y2="512.44" stroke="#666" stroke-width="1.1"/>
<line x1="324.36" y1="518.02" x2="324.36" y2="531.66" stroke="#666" stroke-width="1.1"/>
<line x1="319.61" y1="518.02" x2="329.11" y2="518.02" stroke="#666" stroke-width="1.1"/>
<line x1="319.61" y1="531.66" x2="329.11" y2="531.66" stroke="#666" stroke-width="1.1"/>
<line x1="370.96" y1="557.48" x2="370.96" y2="571.94" stroke="#666" stroke-width="1.1"/>
<line x1="366.21" y1="557.48" x2="375.71" y2="557.48" stroke="#666" stroke-width="1.1"/>
<line x1="366.21" y1="571.94" x2="375.71" y2="571.94" stroke="#666" stroke-width="1.1"/>
<circle cx="176.45" cy="498.6" r="4.6" fill="#080808"/>
<circle cx="206.97" cy="504.38" r="4.6" fill="#080808"/>
<circle cx="236.31" cy="513.06" r="4.6" fill="#080808"/>
<circle cx="265.66" cy="531.66" r="4.6" fill="#080808"/>
<circle cx="295.01" cy="561.2" r="4.6" fill="#080808"/>
<circle cx="324.36" cy="608.51" r="4.6" fill="#080808"/>
<circle cx="370.96" cy="645.49" r="4.6" fill="#080808"/>
<circle cx="429.66" cy="663.88" r="4.6" fill="#080808"/>
<circle cx="488.35" cy="673.59" r="4.6" fill="#080808"/>
<rect x="171.85" y="494" width="9.2" height="9.2" fill="#080808" stroke="none" stroke-width="0"/>
<rect x="202.37" y="503.3" width="9.2" height="9.2" fill="#080808" stroke="none" stroke-width="0"/>
<rect x="231.72" y="508.46" width="9.2" height="9.2" fill="#080808" stroke="none" stroke-width="0"/>
<rect x="261.06" y="503.3" width="9.2" height="9.2" fill="#080808" stroke="none" stroke-width="0"/>
<rect x="290.41" y="503.71" width="9.2" height="9.2" fill="#080808" stroke="none" stroke-width="0"/>
<rect x="319.76" y="520.24" width="9.2" height="9.2" fill="#080808" stroke="none" stroke-width="0"/>
<rect x="366.36" y="560.11" width="9.2" height="9.2" fill="#080808" stroke="none" stroke-width="0"/>
<rect x="425.06" y="605.15" width="9.2" height="9.2" fill="#080808" stroke="none" stroke-width="0"/>
<rect x="483.75" y="632.01" width="9.2" height="9.2" fill="#080808" stroke="none" stroke-width="0"/>
<line x1="176.5" y1="477.94" x2="176.5" y2="705.95" stroke="#111" stroke-width="1.5"/>
<line x1="167.5" y1="705.2" x2="518.45" y2="705.2" stroke="#111" stroke-width="1.5"/>
<line x1="172" y1="653.55" x2="176.5" y2="653.55" stroke="#111" stroke-width="1.5"/>
<line x1="172" y1="550.25" x2="176.5" y2="550.25" stroke="#111" stroke-width="1.5"/>
<line x1="167.5" y1="705.2" x2="176.5" y2="705.2" stroke="#111" stroke-width="1.5"/>
<text x="141.61" y="711.4" font-size="17.4" font-weight="bold" fill="#111" textLength="24.19" lengthAdjust="spacingAndGlyphs" stroke="#111" stroke-width="0.3">0.0</text>
<line x1="167.5" y1="601.9" x2="176.5" y2="601.9" stroke="#111" stroke-width="1.5"/>
<text x="141.44" y="608.1" font-size="17.4" font-weight="bold" fill="#111" textLength="24.19" lengthAdjust="spacingAndGlyphs" stroke="#111" stroke-width="0.3">0.5</text>
<line x1="167.5" y1="498.6" x2="176.5" y2="498.6" stroke="#111" stroke-width="1.5"/>
<text x="141.61" y="504.8" font-size="17.4" font-weight="bold" fill="#111" textLength="24.19" lengthAdjust="spacingAndGlyphs" stroke="#111" stroke-width="0.3">1.0</text>
<line x1="225.2" y1="705.2" x2="225.2" y2="714.2" stroke="#111" stroke-width="1.5"/>
<text x="216.86" y="732" font-size="17.4" font-weight="bold" fill="#111" textLength="15.47" lengthAdjust="spacingAndGlyphs" stroke="#111" stroke-width="0.3">-2</text>
<line x1="322.7" y1="705.2" x2="322.7" y2="714.2" stroke="#111" stroke-width="1.5"/>
<text x="314.27" y="732" font-size="17.4" font-weight="bold" fill="#111" textLength="15.47" lengthAdjust="spacingAndGlyphs" stroke="#111" stroke-width="0.3">-1</text>
<line x1="420.2" y1="705.2" x2="420.2" y2="714.2" stroke="#111" stroke-width="1.5"/>
<text x="415.33" y="732" font-size="17.4" font-weight="bold" fill="#111" textLength="9.68" lengthAdjust="spacingAndGlyphs" stroke="#111" stroke-width="0.3">0</text>
<line x1="517.7" y1="705.2" x2="517.7" y2="714.2" stroke="#111" stroke-width="1.5"/>
<text x="512.57" y="732" font-size="17.4" font-weight="bold" fill="#111" textLength="9.68" lengthAdjust="spacingAndGlyphs" stroke="#111" stroke-width="0.3">1</text>
<text x="296.96" y="760.2" font-size="18.4" font-weight="bold" fill="#111" textLength="100.15" lengthAdjust="spacingAndGlyphs" stroke="#111" stroke-width="0.3">log[VEM] M</text>
<text transform="translate(129.2 663.4) rotate(-90)" x="-1.28" y="0" font-size="18.3" font-weight="bold" fill="#111" textLength="145.1" lengthAdjust="spacingAndGlyphs" stroke="#111" stroke-width="0.3">Relative Viability</text>
<text x="321.46" y="448.5" font-size="21" font-weight="bold" fill="#111" textLength="52.2" lengthAdjust="spacingAndGlyphs" stroke="#111" stroke-width="0.3">A375</text>
<line x1="536.9" y1="492.3" x2="561.5" y2="492.3" stroke="#555" stroke-width="1.1"/>
<circle cx="549.2" cy="492.3" r="4.8" fill="#080808"/>
<text x="574.62" y="498.9" font-size="19.8" font-weight="normal" fill="#111" textLength="29.7" lengthAdjust="spacingAndGlyphs" stroke="#111" stroke-width="0.3">EM</text>
<line x1="536.9" y1="525.3" x2="561.5" y2="525.3" stroke="#555" stroke-width="1.1"/>
<rect x="544.45" y="520.55" width="9.5" height="9.5" fill="#080808" stroke="none" stroke-width="0"/>
<text x="575.21" y="531.9" font-size="19.8" font-weight="normal" fill="#111" textLength="28.61" lengthAdjust="spacingAndGlyphs" stroke="#111" stroke-width="0.3">OE</text>
<path d="M760.05 502.77 L762.27 502.85 L764.48 502.94 L766.70 503.03 L768.92 503.12 L771.13 503.23 L773.35 503.34 L775.56 503.46 L777.78 503.59 L780.00 503.73 L782.21 503.88 L784.43 504.04 L786.65 504.21 L788.86 504.39 L791.08 504.59 L793.29 504.80 L795.51 505.02 L797.73 505.26 L799.94 505.52 L802.16 505.80 L804.38 506.09 L806.59 506.41 L808.81 506.75 L811.02 507.11 L813.24 507.50 L815.46 507.92 L817.67 508.36 L819.89 508.83 L822.11 509.34 L824.32 509.88 L826.54 510.46 L828.75 511.07 L830.97 511.72 L833.19 512.42 L835.40 513.16 L837.62 513.95 L839.84 514.79 L842.05 515.68 L844.27 516.63 L846.49 517.63 L848.70 518.69 L850.92 519.82 L853.13 521.01 L855.35 522.26 L857.57 523.59 L859.78 524.99 L862.00 526.46 L864.22 528.00 L866.43 529.63 L868.65 531.33 L870.86 533.11 L873.08 534.98 L875.30 536.92 L877.51 538.95 L879.73 541.06 L881.95 543.24 L884.16 545.51 L886.38 547.86 L888.59 550.27 L890.81 552.77 L893.03 555.33 L895.24 557.95 L897.46 560.64 L899.68 563.37 L901.89 566.16 L904.11 569.00 L906.32 571.87 L908.54 574.77 L910.76 577.69 L912.97 580.63 L915.19 583.58 L917.41 586.53 L919.62 589.47 L921.84 592.39 L924.06 595.30 L926.27 598.18 L928.49 601.02 L930.70 603.82 L932.92 606.57 L935.14 609.27 L937.35 611.91 L939.57 614.48 L941.79 616.99 L944.00 619.42 L946.22 621.78 L948.43 624.07 L950.65 626.27 L952.87 628.40 L955.08 630.44 L957.30 632.41 L959.52 634.29 L961.73 636.09 L963.95 637.81 L966.16 639.45 L968.38 641.02 L970.60 642.51 L972.81 643.92 L975.03 645.26 L977.25 646.53 L979.46 647.74 L981.68 648.87 L983.89 649.95 L986.11 650.97 L988.33 651.92 L990.54 652.83 L992.76 653.68 L994.98 654.48 L997.19 655.23 L999.41 655.94 L1001.63 656.60 L1003.84 657.22 L1006.06 657.81 L1008.27 658.35 L1010.49 658.87 L1012.71 659.35 L1014.92 659.80 L1017.14 660.22 L1019.36 660.61 L1021.57 660.98 L1023.79 661.33 L1026.00 661.65 L1028.22 661.95 L1030.44 662.23 L1032.65 662.49 L1034.87 662.74 L1037.09 662.97 L1039.30 663.18 L1041.52 663.38 L1043.73 663.57 L1045.95 663.74 L1048.17 663.90 L1050.38 664.05 L1052.60 664.19 L1054.82 664.32 L1057.03 664.45 L1059.25 664.56 L1061.46 664.67 L1063.68 664.76 L1065.90 664.86 L1068.11 664.94" fill="none" stroke="#3a3a3a" stroke-width="1.1"/>
<path d="M760.05 506.95 L762.27 506.98 L764.48 507.02 L766.70 507.07 L768.92 507.11 L771.13 507.16 L773.35 507.21 L775.56 507.27 L777.78 507.33 L780.00 507.39 L782.21 507.46 L784.43 507.54 L786.65 507.62 L788.86 507.71 L791.08 507.80 L793.29 507.90 L795.51 508.01 L797.73 508.12 L799.94 508.24 L802.16 508.38 L804.38 508.52 L806.59 508.67 L808.81 508.83 L811.02 509.01 L813.24 509.19 L815.46 509.40 L817.67 509.61 L819.89 509.84 L822.11 510.09 L824.32 510.35 L826.54 510.63 L828.75 510.94 L830.97 511.26 L833.19 511.61 L835.40 511.98 L837.62 512.37 L839.84 512.79 L842.05 513.25 L844.27 513.73 L846.49 514.24 L848.70 514.79 L850.92 515.37 L853.13 515.99 L855.35 516.65 L857.57 517.36 L859.78 518.10 L862.00 518.89 L864.22 519.74 L866.43 520.63 L868.65 521.57 L870.86 522.57 L873.08 523.63 L875.30 524.74 L877.51 525.92 L879.73 527.15 L881.95 528.45 L884.16 529.82 L886.38 531.26 L888.59 532.76 L890.81 534.33 L893.03 535.97 L895.24 537.68 L897.46 539.45 L899.68 541.30 L901.89 543.21 L904.11 545.19 L906.32 547.23 L908.54 549.33 L910.76 551.49 L912.97 553.71 L915.19 555.98 L917.41 558.29 L919.62 560.65 L921.84 563.04 L924.06 565.46 L926.27 567.91 L928.49 570.38 L930.70 572.86 L932.92 575.35 L935.14 577.84 L937.35 580.32 L939.57 582.79 L941.79 585.25 L944.00 587.67 L946.22 590.07 L948.43 592.43 L950.65 594.75 L952.87 597.02 L955.08 599.24 L957.30 601.41 L959.52 603.52 L961.73 605.57 L963.95 607.55 L966.16 609.47 L968.38 611.33 L970.60 613.11 L972.81 614.83 L975.03 616.48 L977.25 618.05 L979.46 619.56 L981.68 621.01 L983.89 622.38 L986.11 623.69 L988.33 624.93 L990.54 626.12 L992.76 627.24 L994.98 628.30 L997.19 629.30 L999.41 630.25 L1001.63 631.15 L1003.84 632.00 L1006.06 632.80 L1008.27 633.55 L1010.49 634.26 L1012.71 634.92 L1014.92 635.55 L1017.14 636.13 L1019.36 636.69 L1021.57 637.20 L1023.79 637.69 L1026.00 638.14 L1028.22 638.57 L1030.44 638.97 L1032.65 639.34 L1034.87 639.69 L1037.09 640.01 L1039.30 640.32 L1041.52 640.60 L1043.73 640.87 L1045.95 641.12 L1048.17 641.35 L1050.38 641.57 L1052.60 641.77 L1054.82 641.96 L1057.03 642.13 L1059.25 642.30 L1061.46 642.45 L1063.68 642.60 L1065.90 642.73 L1068.11 642.85" fill="none" stroke="#3a3a3a" stroke-width="1.1"/>
<line x1="877.15" y1="528.91" x2="877.15" y2="537.08" stroke="#666" stroke-width="1.1"/>
<line x1="872.46" y1="528.91" x2="881.84" y2="528.91" stroke="#666" stroke-width="1.1"/>
<line x1="872.46" y1="537.08" x2="881.84" y2="537.08" stroke="#666" stroke-width="1.1"/>
<line x1="790.19" y1="507.06" x2="790.19" y2="519.31" stroke="#666" stroke-width="1.1"/>
<line x1="785.5" y1="507.06" x2="794.88" y2="507.06" stroke="#666" stroke-width="1.1"/>
<line x1="785.5" y1="519.31" x2="794.88" y2="519.31" stroke="#666" stroke-width="1.1"/>
<line x1="819.18" y1="499.3" x2="819.18" y2="525.85" stroke="#666" stroke-width="1.1"/>
<line x1="814.49" y1="499.3" x2="823.87" y2="499.3" stroke="#666" stroke-width="1.1"/>
<line x1="814.49" y1="525.85" x2="823.87" y2="525.85" stroke="#666" stroke-width="1.1"/>
<line x1="848.16" y1="514.21" x2="848.16" y2="520.33" stroke="#666" stroke-width="1.1"/>
<line x1="843.47" y1="514.21" x2="852.86" y2="514.21" stroke="#666" stroke-width="1.1"/>
<line x1="843.47" y1="520.33" x2="852.86" y2="520.33" stroke="#666" stroke-width="1.1"/>
<line x1="877.15" y1="509.92" x2="877.15" y2="534.42" stroke="#666" stroke-width="1.1"/>
<line x1="872.46" y1="509.92" x2="881.84" y2="509.92" stroke="#666" stroke-width="1.1"/>
<line x1="872.46" y1="534.42" x2="881.84" y2="534.42" stroke="#666" stroke-width="1.1"/>
<line x1="906.14" y1="536.06" x2="906.14" y2="556.48" stroke="#666" stroke-width="1.1"/>
<line x1="901.44" y1="536.06" x2="910.83" y2="536.06" stroke="#666" stroke-width="1.1"/>
<line x1="901.44" y1="556.48" x2="910.83" y2="556.48" stroke="#666" stroke-width="1.1"/>
<circle cx="760.05" cy="499.3" r="4.54" fill="#080808"/>
<circle cx="790.19" cy="506.45" r="4.54" fill="#080808"/>
<circle cx="819.18" cy="509.51" r="4.54" fill="#080808"/>
<circle cx="848.16" cy="522.78" r="4.54" fill="#080808"/>
<circle cx="877.15" cy="532.99" r="4.54" fill="#080808"/>
<circle cx="906.14" cy="573.42" r="4.54" fill="#080808"/>
<circle cx="952.17" cy="628.97" r="4.54" fill="#080808"/>
<circle cx="1010.14" cy="655.51" r="4.54" fill="#080808"/>
<circle cx="1068.11" cy="667.15" r="4.54" fill="#080808"/>
<rect x="755.51" y="494.76" width="9.09" height="9.09" fill="#080808" stroke="none" stroke-width="0"/>
<rect x="785.65" y="508.64" width="9.09" height="9.09" fill="#080808" stroke="none" stroke-width="0"/>
<rect x="814.63" y="508.03" width="9.09" height="9.09" fill="#080808" stroke="none" stroke-width="0"/>
<rect x="843.62" y="512.72" width="9.09" height="9.09" fill="#080808" stroke="none" stroke-width="0"/>
<rect x="872.61" y="517.63" width="9.09" height="9.09" fill="#080808" stroke="none" stroke-width="0"/>
<rect x="901.59" y="541.72" width="9.09" height="9.09" fill="#080808" stroke="none" stroke-width="0"/>
<rect x="947.62" y="594.4" width="9.09" height="9.09" fill="#080808" stroke="none" stroke-width="0"/>
<rect x="1005.6" y="625.65" width="9.09" height="9.09" fill="#080808" stroke="none" stroke-width="0"/>
<rect x="1063.57" y="640.76" width="9.09" height="9.09" fill="#080808" stroke="none" stroke-width="0"/>
<line x1="759.7" y1="478.88" x2="759.7" y2="704.25" stroke="#111" stroke-width="1.5"/>
<line x1="750.81" y1="703.5" x2="1097.85" y2="703.5" stroke="#111" stroke-width="1.5"/>
<line x1="755.25" y1="652.45" x2="759.7" y2="652.45" stroke="#111" stroke-width="1.5"/>
<line x1="755.25" y1="550.35" x2="759.7" y2="550.35" stroke="#111" stroke-width="1.5"/>
<line x1="750.81" y1="703.5" x2="759.7" y2="703.5" stroke="#111" stroke-width="1.5"/>
<text x="725.23" y="709.63" font-size="17.19" font-weight="bold" fill="#111" textLength="23.9" lengthAdjust="spacingAndGlyphs" stroke="#111" stroke-width="0.3">0.0</text>
<line x1="750.81" y1="601.4" x2="759.7" y2="601.4" stroke="#111" stroke-width="1.5"/>
<text x="725.06" y="607.53" font-size="17.19" font-weight="bold" fill="#111" textLength="23.9" lengthAdjust="spacingAndGlyphs" stroke="#111" stroke-width="0.3">0.5</text>
<line x1="750.81" y1="499.3" x2="759.7" y2="499.3" stroke="#111" stroke-width="1.5"/>
<text x="725.23" y="505.43" font-size="17.19" font-weight="bold" fill="#111" textLength="23.9" lengthAdjust="spacingAndGlyphs" stroke="#111" stroke-width="0.3">1.0</text>
<line x1="808.2" y1="703.5" x2="808.2" y2="712.39" stroke="#111" stroke-width="1.5"/>
<text x="799.96" y="729.98" font-size="17.19" font-weight="bold" fill="#111" textLength="15.28" lengthAdjust="spacingAndGlyphs" stroke="#111" stroke-width="0.3">-2</text>
<line x1="904.5" y1="703.5" x2="904.5" y2="712.39" stroke="#111" stroke-width="1.5"/>
<text x="896.17" y="729.98" font-size="17.19" font-weight="bold" fill="#111" textLength="15.28" lengthAdjust="spacingAndGlyphs" stroke="#111" stroke-width="0.3">-1</text>
<line x1="1000.8" y1="703.5" x2="1000.8" y2="712.39" stroke="#111" stroke-width="1.5"/>
<text x="995.99" y="729.98" font-size="17.19" font-weight="bold" fill="#111" textLength="9.56" lengthAdjust="spacingAndGlyphs" stroke="#111" stroke-width="0.3">0</text>
<line x1="1097.1" y1="703.5" x2="1097.1" y2="712.39" stroke="#111" stroke-width="1.5"/>
<text x="1092.03" y="729.98" font-size="17.19" font-weight="bold" fill="#111" textLength="9.56" lengthAdjust="spacingAndGlyphs" stroke="#111" stroke-width="0.3">1</text>
<text x="878.86" y="757.84" font-size="18.18" font-weight="bold" fill="#111" textLength="98.95" lengthAdjust="spacingAndGlyphs" stroke="#111" stroke-width="0.3">log[VEM] M</text>
<text transform="translate(712.6 662.16) rotate(-90)" x="-1.27" y="0" font-size="18.08" font-weight="bold" fill="#111" textLength="143.36" lengthAdjust="spacingAndGlyphs" stroke="#111" stroke-width="0.3">Relative Viability</text>
<text x="897.58" y="450.9" font-size="21" font-weight="bold" fill="#111" textLength="62.51" lengthAdjust="spacingAndGlyphs" stroke="#111" stroke-width="0.3">451Lu</text>
<line x1="1120.45" y1="493" x2="1144.75" y2="493" stroke="#555" stroke-width="1.1"/>
<circle cx="1132.6" cy="493" r="4.74" fill="#080808"/>
<text x="1157.71" y="499.52" font-size="19.56" font-weight="normal" fill="#111" textLength="29.34" lengthAdjust="spacingAndGlyphs" stroke="#111" stroke-width="0.3">EM</text>
<line x1="1120.45" y1="523.5" x2="1144.75" y2="523.5" stroke="#555" stroke-width="1.1"/>
<rect x="1127.91" y="518.81" width="9.39" height="9.39" fill="#080808" stroke="none" stroke-width="0"/>
<text x="1158.3" y="530.02" font-size="19.56" font-weight="normal" fill="#111" textLength="28.26" lengthAdjust="spacingAndGlyphs" stroke="#111" stroke-width="0.3">OE</text>
<path d="M1345.25 515.91 L1347.36 515.99 L1349.47 516.07 L1351.58 516.16 L1353.69 516.26 L1355.80 516.36 L1357.91 516.46 L1360.02 516.58 L1362.13 516.70 L1364.24 516.82 L1366.35 516.96 L1368.46 517.10 L1370.58 517.26 L1372.69 517.42 L1374.80 517.59 L1376.91 517.77 L1379.02 517.97 L1381.13 518.18 L1383.24 518.39 L1385.35 518.63 L1387.46 518.87 L1389.57 519.14 L1391.68 519.41 L1393.79 519.71 L1395.90 520.02 L1398.01 520.35 L1400.12 520.70 L1402.23 521.08 L1404.34 521.47 L1406.45 521.89 L1408.56 522.33 L1410.67 522.80 L1412.78 523.29 L1414.89 523.81 L1417.00 524.37 L1419.11 524.95 L1421.23 525.57 L1423.34 526.22 L1425.45 526.91 L1427.56 527.64 L1429.67 528.40 L1431.78 529.21 L1433.89 530.06 L1436.00 530.96 L1438.11 531.90 L1440.22 532.89 L1442.33 533.93 L1444.44 535.03 L1446.55 536.17 L1448.66 537.38 L1450.77 538.64 L1452.88 539.96 L1454.99 541.34 L1457.10 542.78 L1459.21 544.28 L1461.32 545.85 L1463.43 547.49 L1465.54 549.19 L1467.65 550.96 L1469.76 552.79 L1471.88 554.69 L1473.99 556.66 L1476.10 558.70 L1478.21 560.80 L1480.32 562.96 L1482.43 565.19 L1484.54 567.49 L1486.65 569.84 L1488.76 572.25 L1490.87 574.72 L1492.98 577.24 L1495.09 579.81 L1497.20 582.42 L1499.31 585.08 L1501.42 587.77 L1503.53 590.50 L1505.64 593.26 L1507.75 596.03 L1509.86 598.83 L1511.97 601.64 L1514.08 604.46 L1516.19 607.28 L1518.30 610.10 L1520.41 612.90 L1522.53 615.70 L1524.64 618.48 L1526.75 621.23 L1528.86 623.95 L1530.97 626.64 L1533.08 629.29 L1535.19 631.90 L1537.30 634.46 L1539.41 636.97 L1541.52 639.43 L1543.63 641.83 L1545.74 644.18 L1547.85 646.46 L1549.96 648.68 L1552.07 650.84 L1554.18 652.93 L1556.29 654.96 L1558.40 656.92 L1560.51 658.81 L1562.62 660.64 L1564.73 662.39 L1566.84 664.08 L1568.95 665.71 L1571.06 667.27 L1573.18 668.76 L1575.29 670.20 L1577.40 671.57 L1579.51 672.88 L1581.62 674.13 L1583.73 675.33 L1585.84 676.47 L1587.95 677.55 L1590.06 678.59 L1592.17 679.57 L1594.28 680.51 L1596.39 681.40 L1598.50 682.24 L1600.61 683.04 L1602.72 683.80 L1604.83 684.52 L1606.94 685.21 L1609.05 685.85 L1611.16 686.47 L1613.27 687.05 L1615.38 687.60 L1617.49 688.11 L1619.60 688.61 L1621.71 689.07 L1623.83 689.51 L1625.94 689.92 L1628.05 690.31 L1630.16 690.68 L1632.27 691.03 L1634.38 691.36 L1636.49 691.67 L1638.60 691.96" fill="none" stroke="#3a3a3a" stroke-width="1.1"/>
<path d="M1345.25 511.32 L1347.36 511.36 L1349.47 511.39 L1351.58 511.43 L1353.69 511.47 L1355.80 511.51 L1357.91 511.55 L1360.02 511.59 L1362.13 511.64 L1364.24 511.69 L1366.35 511.74 L1368.46 511.80 L1370.58 511.85 L1372.69 511.91 L1374.80 511.98 L1376.91 512.04 L1379.02 512.11 L1381.13 512.19 L1383.24 512.27 L1385.35 512.35 L1387.46 512.44 L1389.57 512.53 L1391.68 512.62 L1393.79 512.72 L1395.90 512.83 L1398.01 512.94 L1400.12 513.06 L1402.23 513.18 L1404.34 513.31 L1406.45 513.45 L1408.56 513.59 L1410.67 513.74 L1412.78 513.90 L1414.89 514.07 L1417.00 514.25 L1419.11 514.43 L1421.23 514.62 L1423.34 514.83 L1425.45 515.04 L1427.56 515.27 L1429.67 515.50 L1431.78 515.75 L1433.89 516.01 L1436.00 516.28 L1438.11 516.57 L1440.22 516.87 L1442.33 517.19 L1444.44 517.52 L1446.55 517.87 L1448.66 518.23 L1450.77 518.61 L1452.88 519.02 L1454.99 519.44 L1457.10 519.88 L1459.21 520.34 L1461.32 520.82 L1463.43 521.32 L1465.54 521.85 L1467.65 522.40 L1469.76 522.98 L1471.88 523.58 L1473.99 524.21 L1476.10 524.87 L1478.21 525.56 L1480.32 526.28 L1482.43 527.02 L1484.54 527.80 L1486.65 528.61 L1488.76 529.46 L1490.87 530.34 L1492.98 531.26 L1495.09 532.21 L1497.20 533.20 L1499.31 534.22 L1501.42 535.29 L1503.53 536.39 L1505.64 537.54 L1507.75 538.72 L1509.86 539.94 L1511.97 541.21 L1514.08 542.52 L1516.19 543.87 L1518.30 545.26 L1520.41 546.70 L1522.53 548.17 L1524.64 549.69 L1526.75 551.25 L1528.86 552.85 L1530.97 554.49 L1533.08 556.17 L1535.19 557.89 L1537.30 559.64 L1539.41 561.44 L1541.52 563.26 L1543.63 565.12 L1545.74 567.01 L1547.85 568.94 L1549.96 570.89 L1552.07 572.86 L1554.18 574.86 L1556.29 576.88 L1558.40 578.92 L1560.51 580.97 L1562.62 583.04 L1564.73 585.12 L1566.84 587.21 L1568.95 589.31 L1571.06 591.40 L1573.18 593.50 L1575.29 595.59 L1577.40 597.68 L1579.51 599.76 L1581.62 601.83 L1583.73 603.88 L1585.84 605.92 L1587.95 607.93 L1590.06 609.93 L1592.17 611.90 L1594.28 613.85 L1596.39 615.76 L1598.50 617.65 L1600.61 619.51 L1602.72 621.33 L1604.83 623.11 L1606.94 624.86 L1609.05 626.58 L1611.16 628.25 L1613.27 629.89 L1615.38 631.48 L1617.49 633.03 L1619.60 634.54 L1621.71 636.01 L1623.83 637.44 L1625.94 638.83 L1628.05 640.17 L1630.16 641.47 L1632.27 642.74 L1634.38 643.95 L1636.49 645.13 L1638.60 646.27" fill="none" stroke="#3a3a3a" stroke-width="1.1"/>
<line x1="1429.16" y1="521.18" x2="1429.16" y2="538.64" stroke="#666" stroke-width="1.1"/>
<line x1="1424.69" y1="521.18" x2="1433.62" y2="521.18" stroke="#666" stroke-width="1.1"/>
<line x1="1424.69" y1="538.64" x2="1433.62" y2="538.64" stroke="#666" stroke-width="1.1"/>
<line x1="1638.6" y1="644.24" x2="1638.6" y2="650.06" stroke="#666" stroke-width="1.1"/>
<line x1="1634.13" y1="644.24" x2="1643.06" y2="644.24" stroke="#666" stroke-width="1.1"/>
<line x1="1634.13" y1="650.06" x2="1643.06" y2="650.06" stroke="#666" stroke-width="1.1"/>
<circle cx="1345.25" cy="513.8" r="4.32" fill="#080808"/>
<circle cx="1373.95" cy="519.62" r="4.32" fill="#080808"/>
<circle cx="1401.55" cy="521.95" r="4.32" fill="#080808"/>
<circle cx="1429.16" cy="529.91" r="4.32" fill="#080808"/>
<circle cx="1456.76" cy="538.26" r="4.32" fill="#080808"/>
<circle cx="1484.36" cy="568.15" r="4.32" fill="#080808"/>
<circle cx="1528.19" cy="625.21" r="4.32" fill="#080808"/>
<circle cx="1583.39" cy="671.8" r="4.32" fill="#080808"/>
<circle cx="1638.6" cy="693.92" r="4.32" fill="#080808"/>
<rect x="1340.93" y="509.48" width="8.65" height="8.65" fill="#080808" stroke="none" stroke-width="0"/>
<rect x="1369.63" y="509.48" width="8.65" height="8.65" fill="#080808" stroke="none" stroke-width="0"/>
<rect x="1397.23" y="509.48" width="8.65" height="8.65" fill="#080808" stroke="none" stroke-width="0"/>
<rect x="1424.83" y="509.48" width="8.65" height="8.65" fill="#080808" stroke="none" stroke-width="0"/>
<rect x="1452.43" y="510.25" width="8.65" height="8.65" fill="#080808" stroke="none" stroke-width="0"/>
<rect x="1480.03" y="522.09" width="8.65" height="8.65" fill="#080808" stroke="none" stroke-width="0"/>
<rect x="1523.87" y="553.15" width="8.65" height="8.65" fill="#080808" stroke="none" stroke-width="0"/>
<rect x="1579.07" y="596.43" width="8.65" height="8.65" fill="#080808" stroke="none" stroke-width="0"/>
<rect x="1634.27" y="642.82" width="8.65" height="8.65" fill="#080808" stroke="none" stroke-width="0"/>
<line x1="1344.8" y1="494.39" x2="1344.8" y2="708.65" stroke="#111" stroke-width="1.5"/>
<line x1="1336.34" y1="707.9" x2="1666.95" y2="707.9" stroke="#111" stroke-width="1.5"/>
<line x1="1340.57" y1="659.38" x2="1344.8" y2="659.38" stroke="#111" stroke-width="1.5"/>
<line x1="1340.57" y1="562.33" x2="1344.8" y2="562.33" stroke="#111" stroke-width="1.5"/>
<line x1="1336.34" y1="707.9" x2="1344.8" y2="707.9" stroke="#111" stroke-width="1.5"/>
<text x="1312" y="713.73" font-size="16.36" font-weight="bold" fill="#111" textLength="22.73" lengthAdjust="spacingAndGlyphs" stroke="#111" stroke-width="0.3">0.0</text>
<line x1="1336.34" y1="610.85" x2="1344.8" y2="610.85" stroke="#111" stroke-width="1.5"/>
<text x="1311.84" y="616.68" font-size="16.36" font-weight="bold" fill="#111" textLength="22.73" lengthAdjust="spacingAndGlyphs" stroke="#111" stroke-width="0.3">0.5</text>
<line x1="1336.34" y1="513.8" x2="1344.8" y2="513.8" stroke="#111" stroke-width="1.5"/>
<text x="1312" y="519.63" font-size="16.36" font-weight="bold" fill="#111" textLength="22.73" lengthAdjust="spacingAndGlyphs" stroke="#111" stroke-width="0.3">1.0</text>
<line x1="1391.1" y1="707.9" x2="1391.1" y2="716.36" stroke="#111" stroke-width="1.5"/>
<text x="1383.26" y="733.09" font-size="16.36" font-weight="bold" fill="#111" textLength="14.54" lengthAdjust="spacingAndGlyphs" stroke="#111" stroke-width="0.3">-2</text>
<line x1="1482.8" y1="707.9" x2="1482.8" y2="716.36" stroke="#111" stroke-width="1.5"/>
<text x="1474.88" y="733.09" font-size="16.36" font-weight="bold" fill="#111" textLength="14.54" lengthAdjust="spacingAndGlyphs" stroke="#111" stroke-width="0.3">-1</text>
<line x1="1574.5" y1="707.9" x2="1574.5" y2="716.36" stroke="#111" stroke-width="1.5"/>
<text x="1569.92" y="733.09" font-size="16.36" font-weight="bold" fill="#111" textLength="9.1" lengthAdjust="spacingAndGlyphs" stroke="#111" stroke-width="0.3">0</text>
<line x1="1666.2" y1="707.9" x2="1666.2" y2="716.36" stroke="#111" stroke-width="1.5"/>
<text x="1661.37" y="733.09" font-size="16.36" font-weight="bold" fill="#111" textLength="9.1" lengthAdjust="spacingAndGlyphs" stroke="#111" stroke-width="0.3">1</text>
<text x="1458.37" y="759.6" font-size="17.3" font-weight="bold" fill="#111" textLength="94.14" lengthAdjust="spacingAndGlyphs" stroke="#111" stroke-width="0.3">log[VEM] M</text>
<text transform="translate(1299.8 668.66) rotate(-90)" x="-1.2" y="0" font-size="17.2" font-weight="bold" fill="#111" textLength="136.4" lengthAdjust="spacingAndGlyphs" stroke="#111" stroke-width="0.3">Relative Viability</text>
<text x="1458.08" y="467.2" font-size="21" font-weight="bold" fill="#111" textLength="94.87" lengthAdjust="spacingAndGlyphs" stroke="#111" stroke-width="0.3">SKMEL28</text>
<line x1="1687.34" y1="508" x2="1710.46" y2="508" stroke="#555" stroke-width="1.1"/>
<circle cx="1698.9" cy="508" r="4.51" fill="#080808"/>
<text x="1722.79" y="514.2" font-size="18.61" font-weight="normal" fill="#111" textLength="27.92" lengthAdjust="spacingAndGlyphs" stroke="#111" stroke-width="0.3">EM</text>
<line x1="1687.34" y1="539.5" x2="1710.46" y2="539.5" stroke="#555" stroke-width="1.1"/>
<rect x="1694.44" y="535.03" width="8.93" height="8.93" fill="#080808" stroke="none" stroke-width="0"/>
<text x="1723.35" y="545.7" font-size="18.61" font-weight="normal" fill="#111" textLength="26.89" lengthAdjust="spacingAndGlyphs" stroke="#111" stroke-width="0.3">OE</text>
<path d="M187.90 899.79 L190.05 899.79 L192.21 899.79 L194.36 899.80 L196.52 899.80 L198.67 899.81 L200.82 899.81 L202.98 899.82 L205.13 899.82 L207.29 899.83 L209.44 899.84 L211.60 899.85 L213.75 899.86 L215.90 899.87 L218.06 899.88 L220.21 899.89 L222.37 899.91 L224.52 899.92 L226.67 899.94 L228.83 899.96 L230.98 899.98 L233.14 900.00 L235.29 900.02 L237.45 900.05 L239.60 900.08 L241.75 900.11 L243.91 900.15 L246.06 900.19 L248.22 900.23 L250.37 900.28 L252.52 900.33 L254.68 900.39 L256.83 900.45 L258.99 900.52 L261.14 900.60 L263.30 900.68 L265.45 900.77 L267.60 900.87 L269.76 900.98 L271.91 901.11 L274.07 901.24 L276.22 901.39 L278.37 901.55 L280.53 901.73 L282.68 901.92 L284.84 902.13 L286.99 902.37 L289.14 902.62 L291.30 902.91 L293.45 903.21 L295.61 903.55 L297.76 903.92 L299.92 904.33 L302.07 904.77 L304.22 905.26 L306.38 905.79 L308.53 906.37 L310.69 907.00 L312.84 907.70 L314.99 908.45 L317.15 909.28 L319.30 910.17 L321.46 911.15 L323.61 912.21 L325.77 913.37 L327.92 914.62 L330.07 915.98 L332.23 917.44 L334.38 919.03 L336.54 920.74 L338.69 922.58 L340.84 924.56 L343.00 926.69 L345.15 928.97 L347.31 931.40 L349.46 933.99 L351.62 936.75 L353.77 939.67 L355.92 942.76 L358.08 946.01 L360.23 949.43 L362.39 953.01 L364.54 956.74 L366.69 960.63 L368.85 964.65 L371.00 968.79 L373.16 973.05 L375.31 977.41 L377.46 981.85 L379.62 986.34 L381.77 990.89 L383.93 995.45 L386.08 1000.02 L388.24 1004.57 L390.39 1009.08 L392.54 1013.53 L394.70 1017.91 L396.85 1022.19 L399.01 1026.37 L401.16 1030.42 L403.31 1034.33 L405.47 1038.11 L407.62 1041.72 L409.78 1045.18 L411.93 1048.47 L414.09 1051.60 L416.24 1054.56 L418.39 1057.36 L420.55 1059.99 L422.70 1062.46 L424.86 1064.77 L427.01 1066.93 L429.16 1068.94 L431.32 1070.82 L433.47 1072.56 L435.63 1074.18 L437.78 1075.67 L439.94 1077.05 L442.09 1078.33 L444.24 1079.50 L446.40 1080.59 L448.55 1081.58 L450.71 1082.50 L452.86 1083.34 L455.01 1084.11 L457.17 1084.82 L459.32 1085.47 L461.48 1086.06 L463.63 1086.60 L465.78 1087.10 L467.94 1087.55 L470.09 1087.97 L472.25 1088.35 L474.40 1088.69 L476.56 1089.01 L478.71 1089.29 L480.86 1089.56 L483.02 1089.80 L485.17 1090.01 L487.33 1090.21" fill="none" stroke="#3a3a3a" stroke-width="1.1"/>
<path d="M187.90 895.63 L190.05 895.63 L192.21 895.63 L194.36 895.63 L196.52 895.63 L198.67 895.63 L200.82 895.63 L202.98 895.63 L205.13 895.63 L207.29 895.63 L209.44 895.63 L211.60 895.63 L213.75 895.63 L215.90 895.63 L218.06 895.63 L220.21 895.63 L222.37 895.63 L224.52 895.63 L226.67 895.63 L228.83 895.63 L230.98 895.63 L233.14 895.63 L235.29 895.63 L237.45 895.63 L239.60 895.63 L241.75 895.63 L243.91 895.63 L246.06 895.63 L248.22 895.64 L250.37 895.64 L252.52 895.64 L254.68 895.64 L256.83 895.64 L258.99 895.64 L261.14 895.65 L263.30 895.65 L265.45 895.65 L267.60 895.66 L269.76 895.66 L271.91 895.66 L274.07 895.67 L276.22 895.67 L278.37 895.68 L280.53 895.69 L282.68 895.70 L284.84 895.71 L286.99 895.72 L289.14 895.73 L291.30 895.74 L293.45 895.76 L295.61 895.78 L297.76 895.80 L299.92 895.82 L302.07 895.85 L304.22 895.88 L306.38 895.91 L308.53 895.95 L310.69 895.99 L312.84 896.04 L314.99 896.10 L317.15 896.16 L319.30 896.23 L321.46 896.31 L323.61 896.41 L325.77 896.51 L327.92 896.63 L330.07 896.76 L332.23 896.92 L334.38 897.09 L336.54 897.29 L338.69 897.51 L340.84 897.76 L343.00 898.05 L345.15 898.37 L347.31 898.74 L349.46 899.15 L351.62 899.62 L353.77 900.14 L355.92 900.74 L358.08 901.41 L360.23 902.16 L362.39 903.01 L364.54 903.97 L366.69 905.04 L368.85 906.24 L371.00 907.59 L373.16 909.09 L375.31 910.76 L377.46 912.62 L379.62 914.69 L381.77 916.97 L383.93 919.49 L386.08 922.26 L388.24 925.29 L390.39 928.59 L392.54 932.17 L394.70 936.04 L396.85 940.20 L399.01 944.64 L401.16 949.36 L403.31 954.33 L405.47 959.54 L407.62 964.96 L409.78 970.56 L411.93 976.30 L414.09 982.13 L416.24 988.01 L418.39 993.90 L420.55 999.74 L422.70 1005.49 L424.86 1011.11 L427.01 1016.56 L429.16 1021.80 L431.32 1026.81 L433.47 1031.56 L435.63 1036.04 L437.78 1040.24 L439.94 1044.15 L442.09 1047.78 L444.24 1051.12 L446.40 1054.19 L448.55 1056.99 L450.71 1059.54 L452.86 1061.86 L455.01 1063.95 L457.17 1065.84 L459.32 1067.54 L461.48 1069.07 L463.63 1070.43 L465.78 1071.65 L467.94 1072.74 L470.09 1073.71 L472.25 1074.58 L474.40 1075.35 L476.56 1076.03 L478.71 1076.63 L480.86 1077.17 L483.02 1077.64 L485.17 1078.06 L487.33 1078.44" fill="none" stroke="#3a3a3a" stroke-width="1.1"/>
<line x1="374.63" y1="962.44" x2="374.63" y2="984.28" stroke="#666" stroke-width="1.1"/>
<line x1="370.07" y1="962.44" x2="379.19" y2="962.44" stroke="#666" stroke-width="1.1"/>
<line x1="370.07" y1="984.28" x2="379.19" y2="984.28" stroke="#666" stroke-width="1.1"/>
<line x1="245.37" y1="889" x2="245.37" y2="906.86" stroke="#666" stroke-width="1.1"/>
<line x1="240.81" y1="889" x2="249.93" y2="889" stroke="#666" stroke-width="1.1"/>
<line x1="240.81" y1="906.86" x2="249.93" y2="906.86" stroke="#666" stroke-width="1.1"/>
<line x1="301.72" y1="884.04" x2="301.72" y2="891.98" stroke="#666" stroke-width="1.1"/>
<line x1="297.16" y1="884.04" x2="306.28" y2="884.04" stroke="#666" stroke-width="1.1"/>
<line x1="297.16" y1="891.98" x2="306.28" y2="891.98" stroke="#666" stroke-width="1.1"/>
<line x1="329.89" y1="880.07" x2="329.89" y2="895.95" stroke="#666" stroke-width="1.1"/>
<line x1="325.33" y1="880.07" x2="334.45" y2="880.07" stroke="#666" stroke-width="1.1"/>
<line x1="325.33" y1="895.95" x2="334.45" y2="895.95" stroke="#666" stroke-width="1.1"/>
<line x1="374.63" y1="901.9" x2="374.63" y2="921.75" stroke="#666" stroke-width="1.1"/>
<line x1="370.07" y1="901.9" x2="379.19" y2="901.9" stroke="#666" stroke-width="1.1"/>
<line x1="370.07" y1="921.75" x2="379.19" y2="921.75" stroke="#666" stroke-width="1.1"/>
<circle cx="187.9" cy="901.9" r="4.42" fill="#080808"/>
<circle cx="217.2" cy="897.93" r="4.42" fill="#080808"/>
<circle cx="245.37" cy="899.92" r="4.42" fill="#080808"/>
<circle cx="273.54" cy="899.92" r="4.42" fill="#080808"/>
<circle cx="301.72" cy="901.9" r="4.42" fill="#080808"/>
<circle cx="329.89" cy="921.75" r="4.42" fill="#080808"/>
<circle cx="374.63" cy="973.36" r="4.42" fill="#080808"/>
<circle cx="430.98" cy="1073.4" r="4.42" fill="#080808"/>
<circle cx="487.33" cy="1088.29" r="4.42" fill="#080808"/>
<rect x="183.48" y="897.48" width="8.83" height="8.83" fill="#080808" stroke="none" stroke-width="0"/>
<rect x="212.78" y="897.48" width="8.83" height="8.83" fill="#080808" stroke="none" stroke-width="0"/>
<rect x="240.95" y="893.51" width="8.83" height="8.83" fill="#080808" stroke="none" stroke-width="0"/>
<rect x="269.13" y="891.53" width="8.83" height="8.83" fill="#080808" stroke="none" stroke-width="0"/>
<rect x="297.3" y="883.59" width="8.83" height="8.83" fill="#080808" stroke="none" stroke-width="0"/>
<rect x="325.48" y="883.59" width="8.83" height="8.83" fill="#080808" stroke="none" stroke-width="0"/>
<rect x="370.22" y="907.41" width="8.83" height="8.83" fill="#080808" stroke="none" stroke-width="0"/>
<rect x="426.56" y="1021.35" width="8.83" height="8.83" fill="#080808" stroke="none" stroke-width="0"/>
<rect x="482.91" y="1074.15" width="8.83" height="8.83" fill="#080808" stroke="none" stroke-width="0"/>
<line x1="187.6" y1="882.05" x2="187.6" y2="1101.15" stroke="#111" stroke-width="1.5"/>
<line x1="178.96" y1="1100.4" x2="516.25" y2="1100.4" stroke="#111" stroke-width="1.5"/>
<line x1="183.28" y1="1050.78" x2="187.6" y2="1050.78" stroke="#111" stroke-width="1.5"/>
<line x1="183.28" y1="951.53" x2="187.6" y2="951.53" stroke="#111" stroke-width="1.5"/>
<line x1="178.96" y1="1100.4" x2="187.6" y2="1100.4" stroke="#111" stroke-width="1.5"/>
<text x="154.11" y="1106.35" font-size="16.7" font-weight="bold" fill="#111" textLength="23.22" lengthAdjust="spacingAndGlyphs" stroke="#111" stroke-width="0.3">0.0</text>
<line x1="178.96" y1="1001.15" x2="187.6" y2="1001.15" stroke="#111" stroke-width="1.5"/>
<text x="153.94" y="1007.1" font-size="16.7" font-weight="bold" fill="#111" textLength="23.22" lengthAdjust="spacingAndGlyphs" stroke="#111" stroke-width="0.3">0.5</text>
<line x1="178.96" y1="901.9" x2="187.6" y2="901.9" stroke="#111" stroke-width="1.5"/>
<text x="154.11" y="907.85" font-size="16.7" font-weight="bold" fill="#111" textLength="23.22" lengthAdjust="spacingAndGlyphs" stroke="#111" stroke-width="0.3">1.0</text>
<line x1="234.7" y1="1100.4" x2="234.7" y2="1109.04" stroke="#111" stroke-width="1.5"/>
<text x="226.69" y="1126.13" font-size="16.7" font-weight="bold" fill="#111" textLength="14.85" lengthAdjust="spacingAndGlyphs" stroke="#111" stroke-width="0.3">-2</text>
<line x1="328.3" y1="1100.4" x2="328.3" y2="1109.04" stroke="#111" stroke-width="1.5"/>
<text x="320.21" y="1126.13" font-size="16.7" font-weight="bold" fill="#111" textLength="14.85" lengthAdjust="spacingAndGlyphs" stroke="#111" stroke-width="0.3">-1</text>
<line x1="421.9" y1="1100.4" x2="421.9" y2="1109.04" stroke="#111" stroke-width="1.5"/>
<text x="417.22" y="1126.13" font-size="16.7" font-weight="bold" fill="#111" textLength="9.29" lengthAdjust="spacingAndGlyphs" stroke="#111" stroke-width="0.3">0</text>
<line x1="515.5" y1="1100.4" x2="515.5" y2="1109.04" stroke="#111" stroke-width="1.5"/>
<text x="510.57" y="1126.13" font-size="16.7" font-weight="bold" fill="#111" textLength="9.29" lengthAdjust="spacingAndGlyphs" stroke="#111" stroke-width="0.3">1</text>
<text x="303.42" y="1153.2" font-size="17.66" font-weight="bold" fill="#111" textLength="96.15" lengthAdjust="spacingAndGlyphs" stroke="#111" stroke-width="0.3">log[VEM] M</text>
<text transform="translate(141.6 1060.18) rotate(-90)" x="-1.23" y="0" font-size="17.57" font-weight="bold" fill="#111" textLength="139.3" lengthAdjust="spacingAndGlyphs" stroke="#111" stroke-width="0.3">Relative Viability</text>
<text x="304.15" y="853.9" font-size="21" font-weight="bold" fill="#111" textLength="94.83" lengthAdjust="spacingAndGlyphs" stroke="#111" stroke-width="0.3">UACC257</text>
<line x1="533.89" y1="896" x2="557.51" y2="896" stroke="#555" stroke-width="1.1"/>
<circle cx="545.7" cy="896" r="4.61" fill="#080808"/>
<text x="570.1" y="902.34" font-size="19.01" font-weight="normal" fill="#111" textLength="28.51" lengthAdjust="spacingAndGlyphs" stroke="#111" stroke-width="0.3">EM</text>
<line x1="533.89" y1="927" x2="557.51" y2="927" stroke="#555" stroke-width="1.1"/>
<rect x="541.14" y="922.44" width="9.12" height="9.12" fill="#080808" stroke="none" stroke-width="0"/>
<text x="570.67" y="933.34" font-size="19.01" font-weight="normal" fill="#111" textLength="27.46" lengthAdjust="spacingAndGlyphs" stroke="#111" stroke-width="0.3">OE</text>
<path d="M765.70 892.26 L767.91 892.31 L770.13 892.36 L772.34 892.41 L774.56 892.47 L776.77 892.53 L778.98 892.59 L781.20 892.66 L783.41 892.73 L785.63 892.81 L787.84 892.89 L790.05 892.98 L792.27 893.08 L794.48 893.18 L796.70 893.28 L798.91 893.39 L801.12 893.51 L803.34 893.64 L805.55 893.78 L807.77 893.92 L809.98 894.07 L812.19 894.24 L814.41 894.41 L816.62 894.60 L818.84 894.79 L821.05 895.00 L823.26 895.22 L825.48 895.46 L827.69 895.70 L829.91 895.97 L832.12 896.25 L834.33 896.55 L836.55 896.87 L838.76 897.20 L840.98 897.56 L843.19 897.93 L845.40 898.33 L847.62 898.76 L849.83 899.21 L852.05 899.68 L854.26 900.19 L856.47 900.72 L858.69 901.28 L860.90 901.88 L863.12 902.50 L865.33 903.17 L867.54 903.87 L869.76 904.61 L871.97 905.38 L874.19 906.20 L876.40 907.07 L878.61 907.98 L880.83 908.93 L883.04 909.93 L885.26 910.98 L887.47 912.09 L889.68 913.24 L891.90 914.45 L894.11 915.72 L896.33 917.04 L898.54 918.42 L900.75 919.85 L902.97 921.35 L905.18 922.90 L907.39 924.52 L909.61 926.19 L911.82 927.92 L914.04 929.71 L916.25 931.57 L918.46 933.47 L920.68 935.44 L922.89 937.46 L925.11 939.53 L927.32 941.65 L929.53 943.82 L931.75 946.03 L933.96 948.29 L936.18 950.58 L938.39 952.91 L940.60 955.27 L942.82 957.65 L945.03 960.06 L947.25 962.48 L949.46 964.92 L951.67 967.36 L953.89 969.81 L956.10 972.25 L958.32 974.69 L960.53 977.12 L962.74 979.53 L964.96 981.92 L967.17 984.28 L969.39 986.61 L971.60 988.91 L973.81 991.17 L976.03 993.39 L978.24 995.57 L980.46 997.70 L982.67 999.78 L984.88 1001.80 L987.10 1003.77 L989.31 1005.69 L991.53 1007.55 L993.74 1009.35 L995.95 1011.09 L998.17 1012.77 L1000.38 1014.40 L1002.60 1015.96 L1004.81 1017.46 L1007.02 1018.91 L1009.24 1020.30 L1011.45 1021.62 L1013.67 1022.90 L1015.88 1024.11 L1018.09 1025.28 L1020.31 1026.39 L1022.52 1027.45 L1024.74 1028.46 L1026.95 1029.42 L1029.16 1030.33 L1031.38 1031.20 L1033.59 1032.03 L1035.81 1032.81 L1038.02 1033.56 L1040.23 1034.26 L1042.45 1034.93 L1044.66 1035.57 L1046.88 1036.17 L1049.09 1036.73 L1051.30 1037.27 L1053.52 1037.78 L1055.73 1038.26 L1057.95 1038.71 L1060.16 1039.14 L1062.37 1039.54 L1064.59 1039.92 L1066.80 1040.28 L1069.02 1040.62 L1071.23 1040.94 L1073.44 1041.24" fill="none" stroke="#3a3a3a" stroke-width="1.1"/>
<path d="M765.70 882.40 L767.91 882.40 L770.13 882.40 L772.34 882.40 L774.56 882.40 L776.77 882.40 L778.98 882.40 L781.20 882.40 L783.41 882.40 L785.63 882.40 L787.84 882.41 L790.05 882.41 L792.27 882.41 L794.48 882.41 L796.70 882.41 L798.91 882.42 L801.12 882.42 L803.34 882.42 L805.55 882.42 L807.77 882.43 L809.98 882.43 L812.19 882.44 L814.41 882.44 L816.62 882.44 L818.84 882.45 L821.05 882.46 L823.26 882.46 L825.48 882.47 L827.69 882.48 L829.91 882.48 L832.12 882.49 L834.33 882.50 L836.55 882.51 L838.76 882.53 L840.98 882.54 L843.19 882.55 L845.40 882.57 L847.62 882.58 L849.83 882.60 L852.05 882.62 L854.26 882.64 L856.47 882.67 L858.69 882.69 L860.90 882.72 L863.12 882.75 L865.33 882.79 L867.54 882.83 L869.76 882.87 L871.97 882.91 L874.19 882.96 L876.40 883.01 L878.61 883.07 L880.83 883.13 L883.04 883.20 L885.26 883.28 L887.47 883.36 L889.68 883.45 L891.90 883.55 L894.11 883.66 L896.33 883.78 L898.54 883.90 L900.75 884.04 L902.97 884.20 L905.18 884.36 L907.39 884.54 L909.61 884.74 L911.82 884.96 L914.04 885.19 L916.25 885.45 L918.46 885.72 L920.68 886.03 L922.89 886.36 L925.11 886.71 L927.32 887.10 L929.53 887.52 L931.75 887.98 L933.96 888.48 L936.18 889.01 L938.39 889.60 L940.60 890.23 L942.82 890.91 L945.03 891.64 L947.25 892.43 L949.46 893.29 L951.67 894.21 L953.89 895.19 L956.10 896.25 L958.32 897.38 L960.53 898.59 L962.74 899.89 L964.96 901.26 L967.17 902.73 L969.39 904.28 L971.60 905.92 L973.81 907.66 L976.03 909.48 L978.24 911.40 L980.46 913.41 L982.67 915.50 L984.88 917.68 L987.10 919.95 L989.31 922.28 L991.53 924.69 L993.74 927.16 L995.95 929.69 L998.17 932.27 L1000.38 934.88 L1002.60 937.52 L1004.81 940.18 L1007.02 942.84 L1009.24 945.51 L1011.45 948.16 L1013.67 950.78 L1015.88 953.38 L1018.09 955.92 L1020.31 958.42 L1022.52 960.86 L1024.74 963.22 L1026.95 965.52 L1029.16 967.74 L1031.38 969.87 L1033.59 971.91 L1035.81 973.87 L1038.02 975.73 L1040.23 977.51 L1042.45 979.19 L1044.66 980.78 L1046.88 982.28 L1049.09 983.70 L1051.30 985.03 L1053.52 986.27 L1055.73 987.44 L1057.95 988.53 L1060.16 989.54 L1062.37 990.49 L1064.59 991.37 L1066.80 992.19 L1069.02 992.95 L1071.23 993.65 L1073.44 994.30" fill="none" stroke="#3a3a3a" stroke-width="1.1"/>
<line x1="824.77" y1="887.76" x2="824.77" y2="906.18" stroke="#666" stroke-width="1.1"/>
<line x1="820.07" y1="887.76" x2="829.46" y2="887.76" stroke="#666" stroke-width="1.1"/>
<line x1="820.07" y1="906.18" x2="829.46" y2="906.18" stroke="#666" stroke-width="1.1"/>
<line x1="853.72" y1="889.6" x2="853.72" y2="912.12" stroke="#666" stroke-width="1.1"/>
<line x1="849.03" y1="889.6" x2="858.42" y2="889.6" stroke="#666" stroke-width="1.1"/>
<line x1="849.03" y1="912.12" x2="858.42" y2="912.12" stroke="#666" stroke-width="1.1"/>
<line x1="882.68" y1="898.61" x2="882.68" y2="917.03" stroke="#666" stroke-width="1.1"/>
<line x1="877.99" y1="898.61" x2="887.37" y2="898.61" stroke="#666" stroke-width="1.1"/>
<line x1="877.99" y1="917.03" x2="887.37" y2="917.03" stroke="#666" stroke-width="1.1"/>
<line x1="911.64" y1="916.42" x2="911.64" y2="938.93" stroke="#666" stroke-width="1.1"/>
<line x1="906.94" y1="916.42" x2="916.33" y2="916.42" stroke="#666" stroke-width="1.1"/>
<line x1="906.94" y1="938.93" x2="916.33" y2="938.93" stroke="#666" stroke-width="1.1"/>
<line x1="957.62" y1="891.65" x2="957.62" y2="910.07" stroke="#666" stroke-width="1.1"/>
<line x1="952.93" y1="891.65" x2="962.31" y2="891.65" stroke="#666" stroke-width="1.1"/>
<line x1="952.93" y1="910.07" x2="962.31" y2="910.07" stroke="#666" stroke-width="1.1"/>
<circle cx="765.7" cy="893.9" r="4.54" fill="#080808"/>
<circle cx="795.81" cy="890.62" r="4.54" fill="#080808"/>
<circle cx="824.77" cy="896.97" r="4.54" fill="#080808"/>
<circle cx="853.72" cy="900.86" r="4.54" fill="#080808"/>
<circle cx="882.68" cy="907.82" r="4.54" fill="#080808"/>
<circle cx="911.64" cy="927.68" r="4.54" fill="#080808"/>
<circle cx="957.62" cy="975.37" r="4.54" fill="#080808"/>
<circle cx="1015.53" cy="1022.04" r="4.54" fill="#080808"/>
<circle cx="1073.44" cy="1042.31" r="4.54" fill="#080808"/>
<rect x="761.16" y="889.36" width="9.09" height="9.09" fill="#080808" stroke="none" stroke-width="0"/>
<rect x="791.27" y="881.17" width="9.09" height="9.09" fill="#080808" stroke="none" stroke-width="0"/>
<rect x="820.22" y="877.07" width="9.09" height="9.09" fill="#080808" stroke="none" stroke-width="0"/>
<rect x="849.18" y="875.03" width="9.09" height="9.09" fill="#080808" stroke="none" stroke-width="0"/>
<rect x="878.13" y="871.96" width="9.09" height="9.09" fill="#080808" stroke="none" stroke-width="0"/>
<rect x="907.09" y="872.98" width="9.09" height="9.09" fill="#080808" stroke="none" stroke-width="0"/>
<rect x="953.07" y="896.31" width="9.09" height="9.09" fill="#080808" stroke="none" stroke-width="0"/>
<rect x="1010.99" y="947.49" width="9.09" height="9.09" fill="#080808" stroke="none" stroke-width="0"/>
<rect x="1068.9" y="990.07" width="9.09" height="9.09" fill="#080808" stroke="none" stroke-width="0"/>
<line x1="765.6" y1="873.43" x2="765.6" y2="1099.35" stroke="#111" stroke-width="1.5"/>
<line x1="756.71" y1="1098.6" x2="1103.15" y2="1098.6" stroke="#111" stroke-width="1.5"/>
<line x1="761.15" y1="1047.42" x2="765.6" y2="1047.42" stroke="#111" stroke-width="1.5"/>
<line x1="761.15" y1="945.07" x2="765.6" y2="945.07" stroke="#111" stroke-width="1.5"/>
<line x1="756.71" y1="1098.6" x2="765.6" y2="1098.6" stroke="#111" stroke-width="1.5"/>
<text x="731.13" y="1104.73" font-size="17.19" font-weight="bold" fill="#111" textLength="23.9" lengthAdjust="spacingAndGlyphs" stroke="#111" stroke-width="0.3">0.0</text>
<line x1="756.71" y1="996.25" x2="765.6" y2="996.25" stroke="#111" stroke-width="1.5"/>
<text x="730.96" y="1002.38" font-size="17.19" font-weight="bold" fill="#111" textLength="23.9" lengthAdjust="spacingAndGlyphs" stroke="#111" stroke-width="0.3">0.5</text>
<line x1="756.71" y1="893.9" x2="765.6" y2="893.9" stroke="#111" stroke-width="1.5"/>
<text x="731.13" y="900.03" font-size="17.19" font-weight="bold" fill="#111" textLength="23.9" lengthAdjust="spacingAndGlyphs" stroke="#111" stroke-width="0.3">1.0</text>
<line x1="813.8" y1="1098.6" x2="813.8" y2="1107.49" stroke="#111" stroke-width="1.5"/>
<text x="805.56" y="1125.08" font-size="17.19" font-weight="bold" fill="#111" textLength="15.28" lengthAdjust="spacingAndGlyphs" stroke="#111" stroke-width="0.3">-2</text>
<line x1="910" y1="1098.6" x2="910" y2="1107.49" stroke="#111" stroke-width="1.5"/>
<text x="901.67" y="1125.08" font-size="17.19" font-weight="bold" fill="#111" textLength="15.28" lengthAdjust="spacingAndGlyphs" stroke="#111" stroke-width="0.3">-1</text>
<line x1="1006.2" y1="1098.6" x2="1006.2" y2="1107.49" stroke="#111" stroke-width="1.5"/>
<text x="1001.39" y="1125.08" font-size="17.19" font-weight="bold" fill="#111" textLength="9.56" lengthAdjust="spacingAndGlyphs" stroke="#111" stroke-width="0.3">0</text>
<line x1="1102.4" y1="1098.6" x2="1102.4" y2="1107.49" stroke="#111" stroke-width="1.5"/>
<text x="1097.33" y="1125.08" font-size="17.19" font-weight="bold" fill="#111" textLength="9.56" lengthAdjust="spacingAndGlyphs" stroke="#111" stroke-width="0.3">1</text>
<text x="884.46" y="1152.94" font-size="18.18" font-weight="bold" fill="#111" textLength="98.95" lengthAdjust="spacingAndGlyphs" stroke="#111" stroke-width="0.3">log[VEM] M</text>
<text transform="translate(717.6 1056.98) rotate(-90)" x="-1.27" y="0" font-size="18.08" font-weight="bold" fill="#111" textLength="143.36" lengthAdjust="spacingAndGlyphs" stroke="#111" stroke-width="0.3">Relative Viability</text>
<text x="899.69" y="844.3" font-size="21" font-weight="bold" fill="#111" textLength="68.55" lengthAdjust="spacingAndGlyphs" stroke="#111" stroke-width="0.3">PDX10</text>
<line x1="1116.35" y1="888.2" x2="1140.65" y2="888.2" stroke="#555" stroke-width="1.1"/>
<circle cx="1128.5" cy="888.2" r="4.74" fill="#080808"/>
<text x="1153.61" y="894.72" font-size="19.56" font-weight="normal" fill="#111" textLength="29.34" lengthAdjust="spacingAndGlyphs" stroke="#111" stroke-width="0.3">EM</text>
<line x1="1116.35" y1="920.7" x2="1140.65" y2="920.7" stroke="#555" stroke-width="1.1"/>
<rect x="1123.81" y="916.01" width="9.39" height="9.39" fill="#080808" stroke="none" stroke-width="0"/>
<text x="1154.2" y="927.22" font-size="19.56" font-weight="normal" fill="#111" textLength="28.26" lengthAdjust="spacingAndGlyphs" stroke="#111" stroke-width="0.3">OE</text>
<rect x="1384.9" y="907.1" width="11.3" height="162.4" fill="#fff" stroke="#f88686" stroke-width="2.6"/>
<rect x="1451.6" y="974.2" width="11.5" height="95.3" fill="#fff" stroke="#f88686" stroke-width="2.6"/>
<rect x="1518.9" y="945.5" width="11.1" height="124" fill="#fff" stroke="#f88686" stroke-width="2.6"/>
<rect x="1585.8" y="968.3" width="10.9" height="101.2" fill="#fff" stroke="#f88686" stroke-width="2.6"/>
<rect x="1652.5" y="960.3" width="11.5" height="109.2" fill="#fff" stroke="#f88686" stroke-width="2.6"/>
<rect x="1360.1" y="984.7" width="11.1" height="84.8" fill="#fff" stroke="#111" stroke-width="2.8"/>
<rect x="1427.2" y="1004.3" width="10.8" height="65.2" fill="#fff" stroke="#111" stroke-width="2.8"/>
<rect x="1494" y="1032.5" width="10.9" height="37" fill="#fff" stroke="#111" stroke-width="2.8"/>
<rect x="1560.9" y="1019" width="10.7" height="50.5" fill="#fff" stroke="#111" stroke-width="2.8"/>
<rect x="1627.6" y="1039" width="10.9" height="30.5" fill="#fff" stroke="#111" stroke-width="2.8"/>
<line x1="1353.7" y1="1001.1" x2="1376.9" y2="1001.1" stroke="#1a1a1a" stroke-width="4.6"/>
<line x1="1400.8" y1="1001.1" x2="1424.2" y2="1001.1" stroke="#1a1a1a" stroke-width="4.6"/>
<line x1="1448.1" y1="1001.1" x2="1471.4" y2="1001.1" stroke="#1a1a1a" stroke-width="4.6"/>
<line x1="1495.2" y1="1001.1" x2="1518.3" y2="1001.1" stroke="#1a1a1a" stroke-width="4.6"/>
<line x1="1541.9" y1="1001.1" x2="1565.4" y2="1001.1" stroke="#1a1a1a" stroke-width="4.6"/>
<line x1="1589.3" y1="1001.1" x2="1612.5" y2="1001.1" stroke="#1a1a1a" stroke-width="4.6"/>
<line x1="1636" y1="1001.1" x2="1659.8" y2="1001.1" stroke="#1a1a1a" stroke-width="4.6"/>
<circle cx="1362.1" cy="984" r="4.6" fill="#080808"/>
<circle cx="1366.1" cy="983" r="4.6" fill="#080808"/>
<circle cx="1369.1" cy="983.3" r="4.6" fill="#080808"/>
<circle cx="1429.1" cy="1003.3" r="4.6" fill="#080808"/>
<circle cx="1433.1" cy="1002.3" r="4.6" fill="#080808"/>
<circle cx="1436.1" cy="1002.6" r="4.6" fill="#080808"/>
<circle cx="1495.9" cy="1031.5" r="4.6" fill="#080808"/>
<circle cx="1499.9" cy="1030.5" r="4.6" fill="#080808"/>
<circle cx="1502.9" cy="1030.8" r="4.6" fill="#080808"/>
<circle cx="1562.7" cy="1018" r="4.6" fill="#080808"/>
<circle cx="1566.7" cy="1017" r="4.6" fill="#080808"/>
<circle cx="1569.7" cy="1017.3" r="4.6" fill="#080808"/>
<circle cx="1629.5" cy="1038.3" r="4.6" fill="#080808"/>
<circle cx="1633.5" cy="1037.3" r="4.6" fill="#080808"/>
<circle cx="1636.5" cy="1037.6" r="4.6" fill="#080808"/>
<polygon points="1383,893 1393,893 1388,902" fill="#f88686"/>
<polygon points="1390,893 1400,893 1395,902" fill="#f88686"/>
<polygon points="1385.5,907.5 1395.5,907.5 1390.5,916.5" fill="#f88686"/>
<polygon points="1449.5,964.5 1459.5,964.5 1454.5,973.5" fill="#f88686"/>
<polygon points="1455,967 1465,967 1460,976" fill="#f88686"/>
<polygon points="1452.5,962.5 1462.5,962.5 1457.5,971.5" fill="#f88686"/>
<polygon points="1516.5,937 1526.5,937 1521.5,946" fill="#f88686"/>
<polygon points="1521,937 1531,937 1526,946" fill="#f88686"/>
<polygon points="1524,937.5 1534,937.5 1529,946.5" fill="#f88686"/>
<polygon points="1582.5,953 1592.5,953 1587.5,962" fill="#f88686"/>
<polygon points="1583.5,964.5 1593.5,964.5 1588.5,973.5" fill="#f88686"/>
<polygon points="1589.5,962 1599.5,962 1594.5,971" fill="#f88686"/>
<polygon points="1650,950 1660,950 1655,959" fill="#f88686"/>
<polygon points="1656,950.5 1666,950.5 1661,959.5" fill="#f88686"/>
<polygon points="1650.5,960 1660.5,960 1655.5,969" fill="#f88686"/>
<line x1="1390.5" y1="899" x2="1390.5" y2="912" stroke="#f88686" stroke-width="1.2"/>
<line x1="1387" y1="899" x2="1394" y2="899" stroke="#f88686" stroke-width="1.2"/>
<line x1="1387" y1="912" x2="1394" y2="912" stroke="#f88686" stroke-width="1.2"/>
<line x1="1591" y1="960" x2="1591" y2="972" stroke="#f88686" stroke-width="1.2"/>
<line x1="1587.5" y1="960" x2="1594.5" y2="960" stroke="#f88686" stroke-width="1.2"/>
<line x1="1587.5" y1="972" x2="1594.5" y2="972" stroke="#f88686" stroke-width="1.2"/>
<line x1="1348.9" y1="858.4" x2="1348.9" y2="1070.5" stroke="#111" stroke-width="2"/>
<line x1="1336.3" y1="1069.5" x2="1676.1" y2="1069.5" stroke="#111" stroke-width="2"/>
<line x1="1336.3" y1="1069.5" x2="1348.9" y2="1069.5" stroke="#111" stroke-width="2"/>
<text x="1320.56" y="1078.2" font-size="24.3" font-weight="bold" fill="#111" textLength="13.51" lengthAdjust="spacingAndGlyphs" stroke="#111" stroke-width="0.3">0</text>
<line x1="1336.3" y1="999.4" x2="1348.9" y2="999.4" stroke="#111" stroke-width="2"/>
<text x="1320.32" y="1008.1" font-size="24.3" font-weight="bold" fill="#111" textLength="13.51" lengthAdjust="spacingAndGlyphs" stroke="#111" stroke-width="0.3">1</text>
<line x1="1336.3" y1="929.3" x2="1348.9" y2="929.3" stroke="#111" stroke-width="2"/>
<text x="1320.56" y="938" font-size="24.3" font-weight="bold" fill="#111" textLength="13.51" lengthAdjust="spacingAndGlyphs" stroke="#111" stroke-width="0.3">2</text>
<line x1="1336.3" y1="859.2" x2="1348.9" y2="859.2" stroke="#111" stroke-width="2"/>
<text x="1320.56" y="867.9" font-size="24.3" font-weight="bold" fill="#111" textLength="13.51" lengthAdjust="spacingAndGlyphs" stroke="#111" stroke-width="0.3">3</text>
<line x1="1378.2" y1="1069.5" x2="1378.2" y2="1082.2" stroke="#111" stroke-width="2"/>
<line x1="1444.9" y1="1069.5" x2="1444.9" y2="1082.2" stroke="#111" stroke-width="2"/>
<line x1="1511.6" y1="1069.5" x2="1511.6" y2="1082.2" stroke="#111" stroke-width="2"/>
<line x1="1578.7" y1="1069.5" x2="1578.7" y2="1082.2" stroke="#111" stroke-width="2"/>
<line x1="1645.6" y1="1069.5" x2="1645.6" y2="1082.2" stroke="#111" stroke-width="2"/>
<text transform="translate(1385.7 1102) rotate(-45)" x="-57.37" y="0" font-size="24" font-weight="bold" fill="#111" stroke="#111" stroke-width="0.3">A375</text>
<text transform="translate(1450.22 1099.25) rotate(-45)" x="-69.36" y="0" font-size="24" font-weight="bold" fill="#111" stroke="#111" stroke-width="0.3">451Lu</text>
<text transform="translate(1518.38 1099.55) rotate(-45)" x="-110.69" y="0" font-size="24" font-weight="bold" fill="#111" stroke="#111" stroke-width="0.3">SKMEL28</text>
<text transform="translate(1585.22 1099.88) rotate(-45)" x="-109.37" y="0" font-size="24" font-weight="bold" fill="#111" stroke="#111" stroke-width="0.3">UACC257</text>
<text transform="translate(1651.38 1100.38) rotate(-45)" x="-76.04" y="0" font-size="24" font-weight="bold" fill="#111" stroke="#111" stroke-width="0.3">PDX10</text>
<text x="1369.22" y="894.42" font-size="24" font-weight="bold" fill="#111" textLength="9.34" lengthAdjust="spacingAndGlyphs" stroke="#111" stroke-width="0.3">*</text>
<text x="1440.22" y="965.02" font-size="24" font-weight="bold" fill="#111" textLength="9.34" lengthAdjust="spacingAndGlyphs" stroke="#111" stroke-width="0.3">*</text>
<text x="1506.82" y="940.12" font-size="24" font-weight="bold" fill="#111" textLength="9.34" lengthAdjust="spacingAndGlyphs" stroke="#111" stroke-width="0.3">*</text>
<text x="1573.72" y="955.92" font-size="24" font-weight="bold" fill="#111" textLength="9.34" lengthAdjust="spacingAndGlyphs" stroke="#111" stroke-width="0.3">*</text>
<text x="1637.82" y="951.62" font-size="24" font-weight="bold" fill="#111" textLength="9.34" lengthAdjust="spacingAndGlyphs" stroke="#111" stroke-width="0.3">*</text>
<text x="1448.01" y="845.8" font-size="19.7" font-weight="bold" fill="#111" textLength="110.54" lengthAdjust="spacingAndGlyphs" stroke="#111" stroke-width="0.3">310nm VEM</text>
<text transform="translate(1294.7 1104.5) rotate(-90)" x="-1.52" y="0" font-size="22" font-weight="bold" fill="#111" textLength="287.25" lengthAdjust="spacingAndGlyphs" stroke="#111" stroke-width="0.3">Releative Viability (OE / EM)</text>
<rect x="1565.9" y="852.6" width="113.4" height="62.5" fill="none" stroke="#111" stroke-width="3.6"/>
<circle cx="1582.7" cy="869.9" r="4.8" fill="#080808"/>
<text x="1605.3" y="876.6" font-size="22" font-weight="normal" fill="#111" textLength="43.42" lengthAdjust="spacingAndGlyphs" stroke="#111" stroke-width="0.3">VEH</text>
<polygon points="1578.9,893.71 1589.1,893.71 1584,902.89" fill="#f88686"/>
<text x="1605.12" y="904.4" font-size="22" font-weight="normal" fill="#f88686" textLength="60.52" lengthAdjust="spacingAndGlyphs" stroke="#f88686" stroke-width="0.3">BRAFi</text>
</svg>
</body></html>
